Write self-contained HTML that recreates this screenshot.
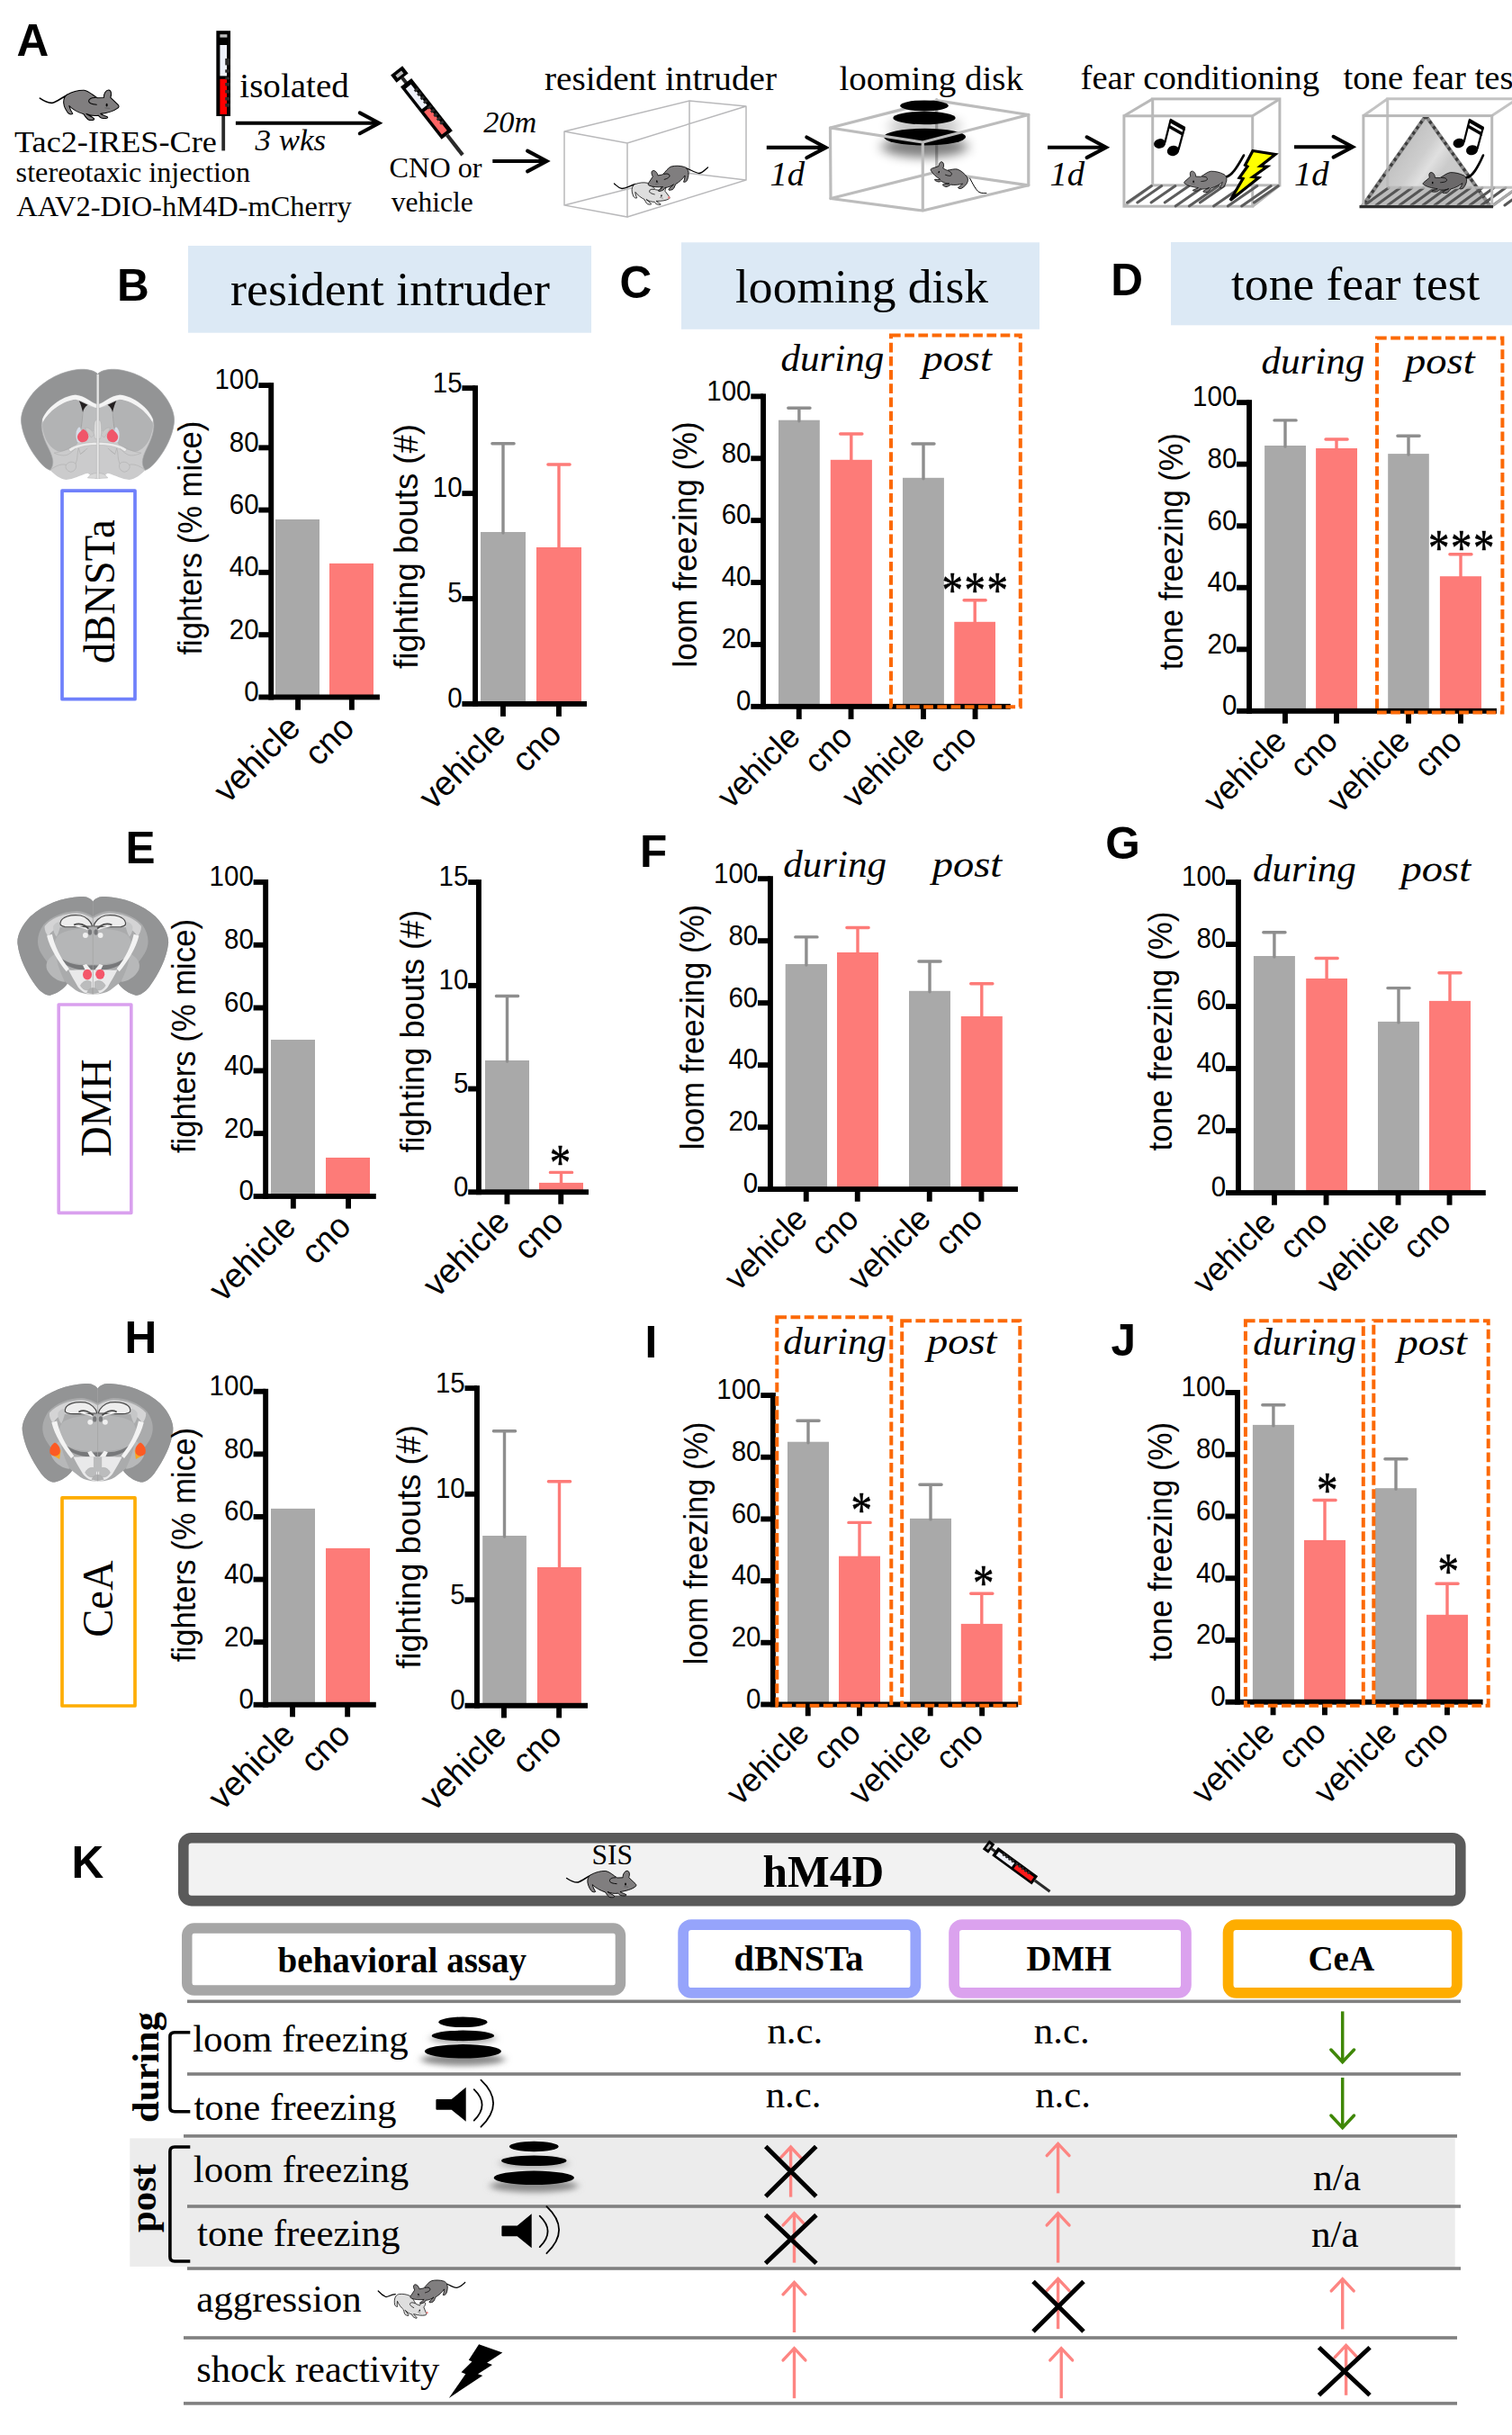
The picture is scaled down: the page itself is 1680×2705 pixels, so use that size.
<!DOCTYPE html>
<html><head><meta charset="utf-8"><title>Figure</title>
<style>html,body{margin:0;padding:0;background:#fff}svg{display:block}.ss{font-family:"Liberation Sans",sans-serif}.sf{font-family:"Liberation Serif",serif}</style></head><body>
<svg width="1680" height="2705" viewBox="0 0 1680 2705">
<rect width="1680" height="2705" fill="#fff"/>
<defs><g id="mb"><path d="M560 255C640 210 720 190 800 192C860 200 920 260 985 300L1075 297C1072 240 1108 188 1145 190C1182 192 1186 250 1170 295L1275 395C1296 415 1286 436 1265 446C1220 480 1130 510 1030 522C1060 545 1110 555 1130 570C1136 590 1080 590 1040 580C1020 570 1005 556 1000 545C940 556 880 545 830 522C860 545 910 560 940 590C950 615 900 612 870 610C840 600 815 560 795 528C720 505 640 460 590 410C600 450 625 500 640 520C620 535 590 525 570 505C530 450 505 380 515 330C520 295 540 270 560 255Z" stroke="#000" stroke-width="13" stroke-linejoin="round"/>
<path d="M958 298C900 294 865 315 865 345C865 380 920 392 975 395" fill="none" stroke="#000" stroke-width="13" stroke-linecap="round"/>
<ellipse cx="1117" cy="400" rx="13" ry="23" fill="#000"/><path d="M1090 440L1160 446" stroke="#555" stroke-width="9" fill="none"/></g><filter id="bl" x="-30%" y="-100%" width="160%" height="400%"><feGaussianBlur stdDeviation="7 6"/></filter><filter id="bl2" x="-30%" y="-100%" width="160%" height="400%"><feGaussianBlur stdDeviation="4 3"/></filter><filter id="soft"><feGaussianBlur stdDeviation="0.5"/></filter><linearGradient id="tri" gradientUnits="userSpaceOnUse" x1="1513.5" y1="229.5" x2="1603.6" y2="292.6"><stop offset="0" stop-color="#c2c2c2"/><stop offset="0.2" stop-color="#cecece"/><stop offset="0.32" stop-color="#e0e0e0"/><stop offset="0.46" stop-color="#cbcbcb"/><stop offset="1" stop-color="#c2c2c2"/></linearGradient></defs>
<rect x="209.0" y="273.0" width="448.0" height="96.7" fill="#dce9f5"/>
<rect x="757.0" y="269.3" width="398.0" height="96.5" fill="#dce9f5"/>
<rect x="1301.0" y="269.0" width="379.0" height="92.3" fill="#dce9f5"/>
<text class="sf" font-size="53.6" textLength="355.0" lengthAdjust="spacingAndGlyphs" x="256.0" y="339.0">resident intruder</text>
<text class="sf" font-size="53.6" textLength="281.0" lengthAdjust="spacingAndGlyphs" x="817.0" y="336.0">looming disk</text>
<text class="sf" font-size="53.6" textLength="276.4" lengthAdjust="spacingAndGlyphs" x="1368.0" y="333.0">tone fear test</text>
<text class="ss" font-size="49.5" font-weight="bold" x="18.5" y="62.0">A</text>
<text class="ss" font-size="49.5" font-weight="bold" x="129.9" y="333.9">B</text>
<text class="ss" font-size="49.5" font-weight="bold" x="688.5" y="330.9">C</text>
<text class="ss" font-size="49.5" font-weight="bold" x="1234.3" y="327.9">D</text>
<text class="ss" font-size="49.5" font-weight="bold" x="139.5" y="958.8">E</text>
<text class="ss" font-size="49.5" font-weight="bold" x="711.1" y="962.8">F</text>
<text class="ss" font-size="49.5" font-weight="bold" x="1228.2" y="953.8">G</text>
<text class="ss" font-size="49.5" font-weight="bold" x="138.5" y="1502.8">H</text>
<text class="ss" font-size="49.5" font-weight="bold" x="716.5" y="1507.9">I</text>
<text class="ss" font-size="49.5" font-weight="bold" x="1234.4" y="1505.8">J</text>
<text class="ss" font-size="49.5" font-weight="bold" x="79.5" y="2085.9">K</text>
<text class="sf" font-size="38.8" textLength="121.5" lengthAdjust="spacingAndGlyphs" x="266.3" y="107.9">isolated</text>
<text class="sf" font-size="34" textLength="224.8" lengthAdjust="spacingAndGlyphs" x="16.0" y="168.5">Tac2-IRES-Cre</text>
<text class="sf" font-size="32.4" textLength="260.5" lengthAdjust="spacingAndGlyphs" x="17.6" y="201.7">stereotaxic injection</text>
<text class="sf" font-size="32.3" textLength="372.5" lengthAdjust="spacingAndGlyphs" x="18.3" y="239.5">AAV2-DIO-hM4D-mCherry</text>
<text class="sf" font-size="31.8" textLength="103.0" lengthAdjust="spacingAndGlyphs" x="432.6" y="196.8">CNO or</text>
<text class="sf" font-size="32" textLength="91.0" lengthAdjust="spacingAndGlyphs" x="434.8" y="234.6">vehicle</text>
<text class="sf" font-size="38.7" textLength="258.0" lengthAdjust="spacingAndGlyphs" x="605.0" y="100.0">resident intruder</text>
<text class="sf" font-size="38.7" textLength="204.5" lengthAdjust="spacingAndGlyphs" x="932.5" y="99.7">looming disk</text>
<text class="sf" font-size="38.7" textLength="265.5" lengthAdjust="spacingAndGlyphs" x="1200.5" y="99.0">fear conditioning</text>
<text class="sf" font-size="38.7" x="1492.5" y="99.0">tone fear test</text>
<text class="sf" font-size="34.4" font-style="italic" textLength="78.5" lengthAdjust="spacingAndGlyphs" x="283.6" y="167.0">3 wks</text>
<text class="sf" font-size="34" font-style="italic" textLength="59.0" lengthAdjust="spacingAndGlyphs" x="537.2" y="146.9">20m</text>
<text class="sf" font-size="38.7" font-style="italic" x="855.4" y="206.0">1d</text>
<text class="sf" font-size="38.7" font-style="italic" x="1166.4" y="206.0">1d</text>
<text class="sf" font-size="38.7" font-style="italic" x="1438.0" y="206.0">1d</text>
<path d="M261.9 136.8H420.1" stroke="#000" stroke-width="4.1" fill="none"/><path d="M399.8 125.4L421.1 136.8L399.8 148.2" stroke="#000" stroke-width="4.1" fill="none" stroke-linejoin="miter" stroke-linecap="round"/>
<path d="M547.3 179H606.4" stroke="#000" stroke-width="4.1" fill="none"/><path d="M586.1 167.6L607.4 179L586.1 190.4" stroke="#000" stroke-width="4.1" fill="none" stroke-linejoin="miter" stroke-linecap="round"/>
<path d="M851.8 163.9H916.6" stroke="#000" stroke-width="4.1" fill="none"/><path d="M896.3 152.5L917.6 163.9L896.3 175.3" stroke="#000" stroke-width="4.1" fill="none" stroke-linejoin="miter" stroke-linecap="round"/>
<path d="M1164 163.7H1227.8999999999999" stroke="#000" stroke-width="4.1" fill="none"/><path d="M1207.6 152.3L1228.9 163.7L1207.6 175.1" stroke="#000" stroke-width="4.1" fill="none" stroke-linejoin="miter" stroke-linecap="round"/>
<path d="M1438 163.2H1501.8999999999999" stroke="#000" stroke-width="4.1" fill="none"/><path d="M1481.6 151.8L1502.9 163.2L1481.6 174.6" stroke="#000" stroke-width="4.1" fill="none" stroke-linejoin="miter" stroke-linecap="round"/>
<path d="M74.8 105.5C68 109 63 113 58.5 114.3C53 115 48.5 112 44.3 109.2" fill="none" stroke="#000" stroke-width="1.6" stroke-linecap="round"/><use href="#mb" transform="translate(101.2,116.7) rotate(0) scale(0.07937,0.07937) translate(-897.5,-400)" fill="#807e7f"/><g transform="translate(248.2,34.2) rotate(0) scale(1.0)"><rect x="-7.85" y="0" width="15.7" height="94.8" fill="#000"/><rect x="-3.8" y="4" width="8" height="3.4" fill="#bdbdbd"/><rect x="-3.8" y="15.8" width="7.7" height="34.4" fill="#eef1fa"/><rect x="-3.8" y="53.6" width="7.7" height="39.2" fill="#ff0000"/><rect x="2.05" y="30.8" width="5.2" height="7.4" fill="#2a2a2a"/><rect x="2.05" y="43.1" width="5.2" height="3.4" fill="#2a2a2a"/><rect x="2.05" y="51.4" width="5.2" height="2.8" fill="#2a2a2a"/><rect x="2.05" y="57.8" width="5.2" height="3.5" fill="#2a2a2a"/><rect x="2.05" y="65.8" width="5.2" height="3.5" fill="#2a2a2a"/><rect x="2.05" y="73.8" width="5.2" height="3.5" fill="#2a2a2a"/><rect x="2.05" y="80.8" width="5.2" height="3.6" fill="#2a2a2a"/><rect x="-1.9" y="94.8" width="3.8" height="38.4" fill="#2a2a2a"/></g><g transform="translate(451.1,91.8) rotate(-38.07806539100221) scale(1.0)"><rect x="-8.3" y="-17" width="16.6" height="10.5" fill="#000"/><rect x="-4.2" y="-13.6" width="8.4" height="3.8" fill="#bdbdbd"/><rect x="-2" y="-7" width="4" height="8" fill="#2a2a2a"/><rect x="-7.8" y="0" width="15.6" height="74" fill="#000"/><rect x="-4.3" y="5" width="7.4" height="29" fill="#eef1fa"/><rect x="-4.3" y="38" width="7.4" height="32" fill="#ff6464"/><rect x="1.6" y="12" width="4.5" height="3" fill="#2a2a2a"/><rect x="1.6" y="17.5" width="4.5" height="3" fill="#2a2a2a"/><rect x="1.6" y="23" width="4.5" height="3" fill="#2a2a2a"/><rect x="1.6" y="28.5" width="4.5" height="3" fill="#2a2a2a"/><rect x="1.6" y="36" width="4.5" height="3" fill="#2a2a2a"/><rect x="1.6" y="41.5" width="4.5" height="3" fill="#2a2a2a"/><rect x="1.6" y="47" width="4.5" height="3" fill="#2a2a2a"/><rect x="1.6" y="52.5" width="4.5" height="3" fill="#2a2a2a"/><rect x="1.6" y="58" width="4.5" height="3" fill="#2a2a2a"/><rect x="-2.1" y="74" width="4.2" height="28" fill="#2a2a2a"/></g><g stroke="#b9b9bb" stroke-width="1.5" fill="none" stroke-linecap="round"><path d="M627 146L766 112L829 118L697 159ZM627 146V228L697 241V159M697 241L829 200V118M766 112V192M627 228L766 192.5L829 200"/></g><path d="M706 204.5C700 206 696 209.5 691 209.5C687 209 685 206 682.5 204" fill="none" stroke="#000" stroke-width="1.3" stroke-linecap="round"/><use href="#mb" transform="translate(722.9,215.5) rotate(9) scale(0.05556,0.05556) translate(-897.5,-400)" fill="#dedede"/><circle cx="743.2" cy="219.4" r="1.2" fill="#f08080"/><path d="M762 186.5C768 189 773 192 777 192.5C781 192 784 188 786.5 186" fill="none" stroke="#000" stroke-width="1.3" stroke-linecap="round"/><use href="#mb" transform="translate(742.8,198.6) rotate(-13) scale(-0.06032,0.06032) translate(-897.5,-400)" fill="#807e7f"/><g stroke="#bcbcbc" stroke-width="3.2" fill="none" stroke-linecap="round" stroke-linejoin="round"><path d="M922.5 142L1040.7 111.7L1142.8 127.5M1040.7 110.5V191M923 220.5L1040.7 191L1142.8 205.8"/></g><ellipse cx="1027.5" cy="163" rx="48" ry="12" fill="#000" opacity="0.5" filter="url(#bl)"/><ellipse cx="1027.5" cy="140" rx="40" ry="12" fill="#000" opacity="0.22" filter="url(#bl)"/><ellipse cx="1027" cy="117.4" rx="26.8" ry="6" fill="#000"/><ellipse cx="1027" cy="131" rx="34.7" ry="7.2" fill="#000"/><ellipse cx="1027.5" cy="152.1" rx="45.6" ry="9.4" fill="#000"/><g stroke="#bcbcbc" stroke-width="3.2" fill="none" stroke-linecap="round" stroke-linejoin="round"><path d="M922.5 142L1025.3 158L1142.8 127.5M922.5 142L923 220.5L1025.3 234V158M1025.3 234L1142.8 205.8V127.5"/></g><path d="M1077.5 198C1081 204 1084 211 1088 213.5C1091 215 1094 214.5 1095.8 214.5" fill="none" stroke="#000" stroke-width="1.0" stroke-linecap="round"/><use href="#mb" transform="translate(1054.3,196.3) rotate(25) scale(-0.05556,0.05556) translate(-897.5,-400)" fill="#807e7f"/><g stroke="#b9b9b9" stroke-width="3" fill="none" stroke-linejoin="miter"><rect x="1280.7" y="109.9" width="141.2" height="95.9"/><rect x="1248.9" y="128.8" width="142.8" height="100.4"/><path d="M1248.9 128.8L1280.7 109.9M1391.7 128.8L1421.9 109.9M1391.7 229.2L1421.9 205.8M1248.9 229.2L1280.7 205.8"/></g><g stroke="#5c5c5c" stroke-width="3" stroke-linecap="round"><path d="M1252.6 225.0L1279.4 206.5"/><path d="M1263.8 225.0L1290.7 206.5"/><path d="M1279.0 225.0L1305.9 206.5"/><path d="M1294.2 225.0L1321.1 206.5"/><path d="M1306.1 229.0L1338.7 206.5"/><path d="M1321.3 229.0L1354.0 206.5"/><path d="M1333.3 225.0L1360.1 206.5"/><path d="M1348.5 229.0L1381.1 206.5"/><path d="M1364.3 229.0L1396.9 206.5"/><path d="M1379.6 229.0L1412.2 206.5"/><path d="M1393.4 225.0L1420.3 206.5"/></g><g transform="translate(1282.0,131.5) scale(1.0)" filter="url(#soft)"><ellipse cx="6.6" cy="28" rx="6.6" ry="5.3" fill="#000" transform="rotate(-15 6.6 28)"/><ellipse cx="21.5" cy="36" rx="6.8" ry="5.6" fill="#000" transform="rotate(-15 21.5 36)"/><path d="M12.3 27L18.8 1.2M27.4 35L34 10.5" stroke="#000" stroke-width="2.3" fill="none"/><path d="M18.4 0L35.2 9.6L34.2 14L17.4 4.4Z" fill="#000"/><path d="M17 7L33.4 16.2L32.6 19.8L16.2 10.4Z" fill="#000"/></g><path d="M1361 196.5C1368 197 1375 185 1382 172.5" fill="none" stroke="#000" stroke-width="2.6" stroke-linecap="round"/><use href="#mb" transform="translate(1339.5,201.8) rotate(0) scale(-0.06111,0.05556) translate(-897.5,-400)" fill="#807e7f"/><path transform="translate(1367.0,167.5) scale(1.0)" d="M25 0L50 4L33.5 17L41 17.5L25 29L31.5 30L0 55L14 31L10 30L19 17.5L16.5 16Z" fill="#ffff00" stroke="#000" stroke-width="3.2" stroke-linejoin="miter"/><path d="M1584.2 128.6L1513.5 229.5H1656Z" fill="url(#tri)"/><path d="M1513.5 229.5L1541.7 208.3H1641L1656 229.5Z" fill="#b9b9b9" opacity="0.9"/><path d="M1584.2 128.6L1513.5 229.5M1584.2 128.6L1656 229.5" stroke="#8a8a8a" stroke-width="4.2" fill="none"/><path d="M1584.2 128.6L1513.5 229.5M1584.2 128.6L1656 229.5" stroke="#3c3c3c" stroke-width="3.2" stroke-dasharray="3.6 3.6" fill="none"/><g stroke="#555" stroke-width="3.0" stroke-linecap="round"><path d="M1516.0 228.0L1543.0 208.5"/><path d="M1529.0 228.0L1556.0 208.5"/><path d="M1542.0 228.0L1569.0 208.5"/><path d="M1555.0 228.0L1582.0 208.5"/><path d="M1568.0 228.0L1595.0 208.5"/><path d="M1581.0 228.0L1608.0 208.5"/><path d="M1594.0 228.0L1621.0 208.5"/><path d="M1607.0 228.0L1634.0 208.5"/><path d="M1620.0 228.0L1647.0 208.5"/><path d="M1633.0 228.0L1660.0 208.5"/><path d="M1646.0 228.0L1673.0 208.5"/><path d="M1659.0 228.0L1686.0 208.5"/><path d="M1672.0 228.0L1699.0 208.5"/></g><g stroke="#b9b9b9" stroke-width="3" fill="none"><path d="M1541.7 208.3V109.8H1690M1514.9 128.6L1541.7 109.8M1657.7 128.6L1686 109.8M1657.7 229.2L1686 208.3M1541.7 208.3H1690" opacity="0.85"/><rect x="1514.9" y="128.6" width="142.8" height="100.6"/></g><path d="M1510.5 229.6H1659" stroke="#2e2e2e" stroke-width="3.4"/><g transform="translate(1614.5,131.5) scale(0.98)" filter="url(#soft)"><ellipse cx="6.6" cy="28" rx="6.6" ry="5.3" fill="#000" transform="rotate(-15 6.6 28)"/><ellipse cx="21.5" cy="36" rx="6.8" ry="5.6" fill="#000" transform="rotate(-15 21.5 36)"/><path d="M12.3 27L18.8 1.2M27.4 35L34 10.5" stroke="#000" stroke-width="2.3" fill="none"/><path d="M18.4 0L35.2 9.6L34.2 14L17.4 4.4Z" fill="#000"/><path d="M17 7L33.4 16.2L32.6 19.8L16.2 10.4Z" fill="#000"/></g><path d="M1628.5 197.5C1636 197 1642 186 1648 172.5" fill="none" stroke="#000" stroke-width="2.6" stroke-linecap="round"/><use href="#mb" transform="translate(1605.5,203.0) rotate(0) scale(-0.06270,0.05476) translate(-897.5,-400)" fill="#6b696a"/>
<rect x="69" y="545.2" width="81" height="231.5" fill="none" stroke="#6f80fb" stroke-width="3.7" stroke-linejoin="round"/>
<rect x="65.2" y="1116" width="80.6" height="231.4" fill="none" stroke="#d9a0ee" stroke-width="3.6" stroke-linejoin="round"/>
<rect x="69" y="1663.9" width="81" height="231.1" fill="none" stroke="#fead02" stroke-width="3.7" stroke-linejoin="round"/>
<text class="sf" font-size="48" textLength="160.0" lengthAdjust="spacingAndGlyphs" transform="translate(126.9,737.3) rotate(-90)">dBNSTa</text>
<text class="sf" font-size="48" textLength="108.5" lengthAdjust="spacingAndGlyphs" transform="translate(123.1,1285.0) rotate(-90)">DMH</text>
<text class="sf" font-size="48" textLength="85.5" lengthAdjust="spacingAndGlyphs" transform="translate(124.7,1818.8) rotate(-90)">CeA</text>
<g transform="translate(10,400) scale(0.13228)"><g><path d="M745 118C715 80 620 68 540 85C400 110 250 200 170 320C110 410 95 480 105 540C120 640 170 740 230 820C270 875 310 912 345 925C380 960 430 1002 480 1005C540 1000 600 965 660 950C690 965 700 995 745 995Z" fill="#cbcbcc"/>
<path d="M745 118C715 80 620 68 540 85C400 110 250 200 170 320C110 410 95 480 105 540C120 640 170 740 230 820C270 875 310 912 345 925C392 868 362 800 322 720C282 640 262 560 280 500C310 410 440 300 560 292C640 298 690 362 745 372Z" fill="#939495" stroke="#a9aaab" stroke-width="5"/>
<path d="M285 522C330 430 450 340 560 330L608 350C622 430 622 520 604 600C600 650 590 690 560 720C520 745 470 765 430 770C370 760 320 700 300 640C280 580 276 552 285 522Z" fill="#b2b3b4"/>
<path d="M608 350C660 390 700 398 745 402V600L604 600C622 520 622 430 608 350Z" fill="#bcbdbe"/>
<path d="M745 372C690 362 640 298 560 292C440 300 310 410 280 500L285 522C330 430 450 340 560 330C630 338 690 396 745 402Z" fill="#f4f4f4"/>
<path d="M588 343L662 376C640 390 626 410 620 440C612 405 602 370 588 343Z" fill="#231f20"/>
<path d="M620 440C614 520 610 560 596 610" fill="none" stroke="#9a9a9a" stroke-width="5"/>
<path d="M500 748C560 705 660 690 745 690L745 715C660 712 580 725 515 770Z" fill="#ececec" stroke="#a5a5a5" stroke-width="3"/>
<path d="M566 600C580 560 598 548 604 590L612 690L575 690C562 660 560 630 566 600Z" fill="#d6dde8"/>
<path d="M640 570C670 560 700 590 716 630L690 650C670 620 650 600 640 570Z" fill="#c9c9c9" stroke="#a8a8a8" stroke-width="3"/>
<path d="M720 520C728 500 745 495 745 495V660L722 660C712 610 712 560 720 520Z" fill="#dedede" stroke="#a8a8a8" stroke-width="3"/>
<path d="M621 580C650 590 668 615 668 645C664 675 640 692 616 690C590 688 572 665 574 640C578 615 600 600 621 580Z" fill="#f0566a"/>
<path d="M520 730C470 760 420 775 380 780M380 780C420 800 470 810 500 790C520 780 540 760 560 740M345 925C400 880 450 870 480 880C500 850 540 850 560 870C580 830 570 780 585 740M480 880C470 900 480 930 520 940C560 930 570 900 560 870M600 790C620 770 640 760 660 740M585 740L600 790L640 760" fill="none" stroke="#a9a9a9" stroke-width="4"/>
<path d="M660 990C680 960 700 950 745 950V995Z" fill="#d8d8d8" stroke="#a9a9a9" stroke-width="3"/></g><g transform="translate(1490,0) scale(-1,1)"><path d="M745 118C715 80 620 68 540 85C400 110 250 200 170 320C110 410 95 480 105 540C120 640 170 740 230 820C270 875 310 912 345 925C380 960 430 1002 480 1005C540 1000 600 965 660 950C690 965 700 995 745 995Z" fill="#cbcbcc"/>
<path d="M745 118C715 80 620 68 540 85C400 110 250 200 170 320C110 410 95 480 105 540C120 640 170 740 230 820C270 875 310 912 345 925C392 868 362 800 322 720C282 640 262 560 280 500C310 410 440 300 560 292C640 298 690 362 745 372Z" fill="#939495" stroke="#a9aaab" stroke-width="5"/>
<path d="M285 522C330 430 450 340 560 330L608 350C622 430 622 520 604 600C600 650 590 690 560 720C520 745 470 765 430 770C370 760 320 700 300 640C280 580 276 552 285 522Z" fill="#b2b3b4"/>
<path d="M608 350C660 390 700 398 745 402V600L604 600C622 520 622 430 608 350Z" fill="#bcbdbe"/>
<path d="M745 372C690 362 640 298 560 292C440 300 310 410 280 500L285 522C330 430 450 340 560 330C630 338 690 396 745 402Z" fill="#f4f4f4"/>
<path d="M588 343L662 376C640 390 626 410 620 440C612 405 602 370 588 343Z" fill="#231f20"/>
<path d="M620 440C614 520 610 560 596 610" fill="none" stroke="#9a9a9a" stroke-width="5"/>
<path d="M500 748C560 705 660 690 745 690L745 715C660 712 580 725 515 770Z" fill="#ececec" stroke="#a5a5a5" stroke-width="3"/>
<path d="M566 600C580 560 598 548 604 590L612 690L575 690C562 660 560 630 566 600Z" fill="#d6dde8"/>
<path d="M640 570C670 560 700 590 716 630L690 650C670 620 650 600 640 570Z" fill="#c9c9c9" stroke="#a8a8a8" stroke-width="3"/>
<path d="M720 520C728 500 745 495 745 495V660L722 660C712 610 712 560 720 520Z" fill="#dedede" stroke="#a8a8a8" stroke-width="3"/>
<path d="M621 580C650 590 668 615 668 645C664 675 640 692 616 690C590 688 572 665 574 640C578 615 600 600 621 580Z" fill="#f0566a"/>
<path d="M520 730C470 760 420 775 380 780M380 780C420 800 470 810 500 790C520 780 540 760 560 740M345 925C400 880 450 870 480 880C500 850 540 850 560 870C580 830 570 780 585 740M480 880C470 900 480 930 520 940C560 930 570 900 560 870M600 790C620 770 640 760 660 740M585 740L600 790L640 760" fill="none" stroke="#a9a9a9" stroke-width="4"/>
<path d="M660 990C680 960 700 950 745 950V995Z" fill="#d8d8d8" stroke="#a9a9a9" stroke-width="3"/></g><rect x="736" y="120" width="20" height="875" fill="#e6e6e6"/><path d="M736 120V995M756 120V995" stroke="#a0a0a0" stroke-width="3"/></g><g transform="translate(10,985) scale(0.13228)"><g><path d="M705 125C680 90 640 82 600 84C450 90 290 150 180 250C100 330 65 420 72 480C85 600 150 730 230 840C270 890 310 915 345 912C400 900 460 860 490 815L560 870C600 895 660 908 705 903Z" fill="#aaabac"/>
<path d="M705 125C680 90 640 82 600 84C450 90 290 150 180 250C100 330 65 420 72 480C85 600 150 730 230 840C270 890 310 915 345 912C400 900 460 860 490 815C430 760 330 660 270 560C225 480 235 400 290 320C350 250 470 205 570 205C630 210 680 235 705 252Z" fill="#939495"/>
<path d="M300 330C360 260 470 222 570 222C630 226 680 250 705 268V340L420 340C380 360 350 380 330 420C310 390 295 360 300 330Z" fill="#d4d4d5"/>
<path d="M395 560C330 600 300 640 320 700C350 760 420 800 470 800C440 740 400 650 395 560Z" fill="#b7b8b9"/>
<path d="M705 352C600 350 480 360 420 402C372 440 372 520 402 572C450 632 580 656 705 652Z" fill="#b5b6b7"/>
<path d="M436 600C520 665 610 665 705 660L705 700C610 705 510 690 450 635Z" fill="#77787a"/>
<path d="M500 700C540 702 600 696 705 700L705 903C660 908 610 882 580 842C550 792 520 742 500 700Z" fill="#e9e9ea"/>
<path d="M318 412L362 398C384 500 434 600 506 690L482 712C410 622 346 522 318 412Z" fill="#f3f3f3"/>
<path d="M372 330C390 300 420 290 436 300C430 340 420 380 400 420C380 400 368 360 372 330Z" fill="#c6c7c8"/>
<path d="M432 300C442 252 520 232 600 242C650 252 690 292 700 332C650 334 560 342 470 337C440 332 426 322 432 300Z" fill="#ededed" stroke="#4a4a4a" stroke-width="9"/>
<path d="M545 322C590 300 640 320 668 352" fill="none" stroke="#4a4a4a" stroke-width="13"/>
<path d="M560 330C600 340 640 345 660 360" fill="none" stroke="#f4f4f4" stroke-width="9"/>
<ellipse cx="680" cy="382" rx="16" ry="24" fill="#77787a"/><circle cx="642" cy="408" r="22" fill="#f0f0f0"/>
<path d="M600 830C620 790 660 780 690 800L690 860C660 880 620 870 600 830Z" fill="#bbbcbd" stroke="#a0a0a0" stroke-width="3"/>
<path d="M655 890C665 860 690 850 705 850V900Z" fill="#b1b2b3" stroke="#a0a0a0" stroke-width="3"/>
<path d="M620 660L650 650L690 700L640 700Z" fill="#f2f2f2"/></g><g transform="translate(1410,0) scale(-1,1)"><path d="M705 125C680 90 640 82 600 84C450 90 290 150 180 250C100 330 65 420 72 480C85 600 150 730 230 840C270 890 310 915 345 912C400 900 460 860 490 815L560 870C600 895 660 908 705 903Z" fill="#aaabac"/>
<path d="M705 125C680 90 640 82 600 84C450 90 290 150 180 250C100 330 65 420 72 480C85 600 150 730 230 840C270 890 310 915 345 912C400 900 460 860 490 815C430 760 330 660 270 560C225 480 235 400 290 320C350 250 470 205 570 205C630 210 680 235 705 252Z" fill="#939495"/>
<path d="M300 330C360 260 470 222 570 222C630 226 680 250 705 268V340L420 340C380 360 350 380 330 420C310 390 295 360 300 330Z" fill="#d4d4d5"/>
<path d="M395 560C330 600 300 640 320 700C350 760 420 800 470 800C440 740 400 650 395 560Z" fill="#b7b8b9"/>
<path d="M705 352C600 350 480 360 420 402C372 440 372 520 402 572C450 632 580 656 705 652Z" fill="#b5b6b7"/>
<path d="M436 600C520 665 610 665 705 660L705 700C610 705 510 690 450 635Z" fill="#77787a"/>
<path d="M500 700C540 702 600 696 705 700L705 903C660 908 610 882 580 842C550 792 520 742 500 700Z" fill="#e9e9ea"/>
<path d="M318 412L362 398C384 500 434 600 506 690L482 712C410 622 346 522 318 412Z" fill="#f3f3f3"/>
<path d="M372 330C390 300 420 290 436 300C430 340 420 380 400 420C380 400 368 360 372 330Z" fill="#c6c7c8"/>
<path d="M432 300C442 252 520 232 600 242C650 252 690 292 700 332C650 334 560 342 470 337C440 332 426 322 432 300Z" fill="#ededed" stroke="#4a4a4a" stroke-width="9"/>
<path d="M545 322C590 300 640 320 668 352" fill="none" stroke="#4a4a4a" stroke-width="13"/>
<path d="M560 330C600 340 640 345 660 360" fill="none" stroke="#f4f4f4" stroke-width="9"/>
<ellipse cx="680" cy="382" rx="16" ry="24" fill="#77787a"/><circle cx="642" cy="408" r="22" fill="#f0f0f0"/>
<path d="M600 830C620 790 660 780 690 800L690 860C660 880 620 870 600 830Z" fill="#bbbcbd" stroke="#a0a0a0" stroke-width="3"/>
<path d="M655 890C665 860 690 850 705 850V900Z" fill="#b1b2b3" stroke="#a0a0a0" stroke-width="3"/>
<path d="M620 660L650 650L690 700L640 700Z" fill="#f2f2f2"/></g><path d="M705 125V903" stroke="#9a9a9a" stroke-width="4"/><ellipse cx="658" cy="738" rx="38" ry="44" fill="#f4566a"/><ellipse cx="765" cy="735" rx="38" ry="42" fill="#f4566a"/></g><g transform="translate(15.291005291005291,1525.873015873016) scale(0.13228)"><g><path d="M705 125C680 90 640 82 600 84C450 90 290 150 180 250C100 330 65 420 72 480C85 600 150 730 230 840C270 890 310 915 345 912C400 900 460 860 490 815L560 870C600 895 660 908 705 903Z" fill="#aaabac"/>
<path d="M705 125C680 90 640 82 600 84C450 90 290 150 180 250C100 330 65 420 72 480C85 600 150 730 230 840C270 890 310 915 345 912C400 900 460 860 490 815C430 760 330 660 270 560C225 480 235 400 290 320C350 250 470 205 570 205C630 210 680 235 705 252Z" fill="#939495"/>
<path d="M300 330C360 260 470 222 570 222C630 226 680 250 705 268V340L420 340C380 360 350 380 330 420C310 390 295 360 300 330Z" fill="#d4d4d5"/>
<path d="M395 560C330 600 300 640 320 700C350 760 420 800 470 800C440 740 400 650 395 560Z" fill="#b7b8b9"/>
<path d="M705 352C600 350 480 360 420 402C372 440 372 520 402 572C450 632 580 656 705 652Z" fill="#b5b6b7"/>
<path d="M436 600C520 665 610 665 705 660L705 700C610 705 510 690 450 635Z" fill="#77787a"/>
<path d="M500 700C540 702 600 696 705 700L705 903C660 908 610 882 580 842C550 792 520 742 500 700Z" fill="#e9e9ea"/>
<path d="M318 412L362 398C384 500 434 600 506 690L482 712C410 622 346 522 318 412Z" fill="#f3f3f3"/>
<path d="M372 330C390 300 420 290 436 300C430 340 420 380 400 420C380 400 368 360 372 330Z" fill="#c6c7c8"/>
<path d="M432 300C442 252 520 232 600 242C650 252 690 292 700 332C650 334 560 342 470 337C440 332 426 322 432 300Z" fill="#ededed" stroke="#4a4a4a" stroke-width="9"/>
<path d="M545 322C590 300 640 320 668 352" fill="none" stroke="#4a4a4a" stroke-width="13"/>
<path d="M560 330C600 340 640 345 660 360" fill="none" stroke="#f4f4f4" stroke-width="9"/>
<ellipse cx="680" cy="382" rx="16" ry="24" fill="#77787a"/><circle cx="642" cy="408" r="22" fill="#f0f0f0"/>
<path d="M600 830C620 790 660 780 690 800L690 860C660 880 620 870 600 830Z" fill="#bbbcbd" stroke="#a0a0a0" stroke-width="3"/>
<path d="M655 890C665 860 690 850 705 850V900Z" fill="#b1b2b3" stroke="#a0a0a0" stroke-width="3"/>
<path d="M620 660L650 650L690 700L640 700Z" fill="#f2f2f2"/></g><g transform="translate(1410,0) scale(-1,1)"><path d="M705 125C680 90 640 82 600 84C450 90 290 150 180 250C100 330 65 420 72 480C85 600 150 730 230 840C270 890 310 915 345 912C400 900 460 860 490 815L560 870C600 895 660 908 705 903Z" fill="#aaabac"/>
<path d="M705 125C680 90 640 82 600 84C450 90 290 150 180 250C100 330 65 420 72 480C85 600 150 730 230 840C270 890 310 915 345 912C400 900 460 860 490 815C430 760 330 660 270 560C225 480 235 400 290 320C350 250 470 205 570 205C630 210 680 235 705 252Z" fill="#939495"/>
<path d="M300 330C360 260 470 222 570 222C630 226 680 250 705 268V340L420 340C380 360 350 380 330 420C310 390 295 360 300 330Z" fill="#d4d4d5"/>
<path d="M395 560C330 600 300 640 320 700C350 760 420 800 470 800C440 740 400 650 395 560Z" fill="#b7b8b9"/>
<path d="M705 352C600 350 480 360 420 402C372 440 372 520 402 572C450 632 580 656 705 652Z" fill="#b5b6b7"/>
<path d="M436 600C520 665 610 665 705 660L705 700C610 705 510 690 450 635Z" fill="#77787a"/>
<path d="M500 700C540 702 600 696 705 700L705 903C660 908 610 882 580 842C550 792 520 742 500 700Z" fill="#e9e9ea"/>
<path d="M318 412L362 398C384 500 434 600 506 690L482 712C410 622 346 522 318 412Z" fill="#f3f3f3"/>
<path d="M372 330C390 300 420 290 436 300C430 340 420 380 400 420C380 400 368 360 372 330Z" fill="#c6c7c8"/>
<path d="M432 300C442 252 520 232 600 242C650 252 690 292 700 332C650 334 560 342 470 337C440 332 426 322 432 300Z" fill="#ededed" stroke="#4a4a4a" stroke-width="9"/>
<path d="M545 322C590 300 640 320 668 352" fill="none" stroke="#4a4a4a" stroke-width="13"/>
<path d="M560 330C600 340 640 345 660 360" fill="none" stroke="#f4f4f4" stroke-width="9"/>
<ellipse cx="680" cy="382" rx="16" ry="24" fill="#77787a"/><circle cx="642" cy="408" r="22" fill="#f0f0f0"/>
<path d="M600 830C620 790 660 780 690 800L690 860C660 880 620 870 600 830Z" fill="#bbbcbd" stroke="#a0a0a0" stroke-width="3"/>
<path d="M655 890C665 860 690 850 705 850V900Z" fill="#b1b2b3" stroke="#a0a0a0" stroke-width="3"/>
<path d="M620 660L650 650L690 700L640 700Z" fill="#f2f2f2"/></g><path d="M705 125V903" stroke="#9a9a9a" stroke-width="4"/><path d="M670 700H740V800L705 830L670 800Z" fill="#bbbcbd"/><path d="M335 690L395 640L385 720Z" fill="#f7a823"/><path d="M345 580C385 600 397 640 385 670C365 700 325 700 305 670C295 630 315 600 345 580Z" fill="#fd5a23"/><path d="M1075 690L1015 640L1025 720Z" fill="#f7a823"/><path d="M1065 580C1025 600 1013 640 1025 670C1045 700 1085 700 1105 670C1115 630 1095 600 1065 580Z" fill="#fd5a23"/></g>
<rect x="306.0" y="577.0" width="49.0" height="197.5" fill="#a9a9a9"/>
<rect x="366.0" y="625.9" width="49.0" height="148.6" fill="#fd7b78"/>
<rect x="298.3" y="425.1" width="5.9" height="352.4" fill="#000"/>
<rect x="287.4" y="771.5" width="134.5" height="5.9" fill="#000"/>
<rect x="287.4" y="425.1" width="13.9" height="5.9" fill="#000"/>
<text class="ss" font-size="32" text-anchor="end" textLength="49.2" lengthAdjust="spacingAndGlyphs" x="287.6" y="432.3">100</text>
<rect x="287.4" y="494.4" width="13.9" height="5.9" fill="#000"/>
<text class="ss" font-size="32" text-anchor="end" textLength="32.8" lengthAdjust="spacingAndGlyphs" x="287.6" y="501.6">80</text>
<rect x="287.4" y="563.6" width="13.9" height="5.9" fill="#000"/>
<text class="ss" font-size="32" text-anchor="end" textLength="32.8" lengthAdjust="spacingAndGlyphs" x="287.6" y="570.9">60</text>
<rect x="287.4" y="632.9" width="13.9" height="5.9" fill="#000"/>
<text class="ss" font-size="32" text-anchor="end" textLength="32.8" lengthAdjust="spacingAndGlyphs" x="287.6" y="640.2">40</text>
<rect x="287.4" y="702.2" width="13.9" height="5.9" fill="#000"/>
<text class="ss" font-size="32" text-anchor="end" textLength="32.8" lengthAdjust="spacingAndGlyphs" x="287.6" y="709.5">20</text>
<text class="ss" font-size="32" text-anchor="end" textLength="16.4" lengthAdjust="spacingAndGlyphs" x="287.6" y="778.8">0</text>
<rect x="328.1" y="774.5" width="5.9" height="14.2" fill="#000"/>
<rect x="387.9" y="774.5" width="5.9" height="14.2" fill="#000"/>
<text class="ss" font-size="38.3" text-anchor="end" textLength="117.0" lengthAdjust="spacingAndGlyphs" transform="translate(335.9,810.8) rotate(-45)">vehicle</text>
<text class="ss" font-size="38.3" text-anchor="end" textLength="59.0" lengthAdjust="spacingAndGlyphs" transform="translate(395.7,810.8) rotate(-45)">cno</text>
<text class="ss" font-size="36.5" textLength="259.7" lengthAdjust="spacingAndGlyphs" transform="translate(223.5,727.5) rotate(-90)">fighters (% mice)</text>
<rect x="534.0" y="591.0" width="50.0" height="191.0" fill="#a9a9a9"/>
<path d="M559.0 592.0V492.8M546.9 492.8H571.1" stroke="#8e8e8e" stroke-width="3.4" stroke-linecap="round" fill="none"/>
<rect x="596.0" y="608.0" width="50.0" height="174.0" fill="#fd7b78"/>
<path d="M621.0 609.0V516.0M608.9 516.0H633.1" stroke="#fd7b78" stroke-width="3.4" stroke-linecap="round" fill="none"/>
<rect x="525.1" y="428.2" width="5.9" height="356.7" fill="#000"/>
<rect x="513.4" y="779.0" width="138.6" height="5.9" fill="#000"/>
<rect x="513.4" y="428.2" width="14.7" height="5.9" fill="#000"/>
<text class="ss" font-size="32" text-anchor="end" textLength="32.8" lengthAdjust="spacingAndGlyphs" x="513.6" y="435.5">15</text>
<rect x="513.4" y="545.2" width="14.7" height="5.9" fill="#000"/>
<text class="ss" font-size="32" text-anchor="end" textLength="32.8" lengthAdjust="spacingAndGlyphs" x="513.6" y="552.4">10</text>
<rect x="513.4" y="662.1" width="14.7" height="5.9" fill="#000"/>
<text class="ss" font-size="32" text-anchor="end" textLength="16.4" lengthAdjust="spacingAndGlyphs" x="513.6" y="669.4">5</text>
<text class="ss" font-size="32" text-anchor="end" textLength="16.4" lengthAdjust="spacingAndGlyphs" x="513.6" y="786.3">0</text>
<rect x="556.0" y="782.0" width="5.9" height="13.9" fill="#000"/>
<rect x="618.0" y="782.0" width="5.9" height="13.9" fill="#000"/>
<text class="ss" font-size="38.3" text-anchor="end" textLength="117.0" lengthAdjust="spacingAndGlyphs" transform="translate(563.9,818.0) rotate(-45)">vehicle</text>
<text class="ss" font-size="38.3" text-anchor="end" textLength="59.0" lengthAdjust="spacingAndGlyphs" transform="translate(625.9,818.0) rotate(-45)">cno</text>
<text class="ss" font-size="36.5" textLength="272.0" lengthAdjust="spacingAndGlyphs" transform="translate(463.5,743.0) rotate(-90)">fighting bouts (#)</text>
<rect x="865.0" y="466.7" width="45.8" height="318.2" fill="#a9a9a9"/>
<path d="M887.9 467.7V453.3M875.8 453.3H900.0" stroke="#8e8e8e" stroke-width="3.4" stroke-linecap="round" fill="none"/>
<rect x="922.8" y="510.8" width="46.1" height="274.1" fill="#fd7b78"/>
<path d="M945.8 511.8V482.0M933.7 482.0H957.9" stroke="#fd7b78" stroke-width="3.4" stroke-linecap="round" fill="none"/>
<rect x="1003.0" y="530.8" width="45.9" height="254.1" fill="#a9a9a9"/>
<path d="M1026.0 531.8V493.0M1013.9 493.0H1038.0" stroke="#8e8e8e" stroke-width="3.4" stroke-linecap="round" fill="none"/>
<rect x="1060.3" y="690.8" width="45.7" height="94.1" fill="#fd7b78"/>
<path d="M1083.2 691.8V666.7M1071.1 666.7H1095.2" stroke="#fd7b78" stroke-width="3.4" stroke-linecap="round" fill="none"/>
<rect x="845.1" y="437.4" width="5.9" height="350.5" fill="#000"/>
<rect x="834.3" y="781.9" width="288.5" height="5.9" fill="#000"/>
<rect x="834.3" y="437.4" width="13.8" height="5.9" fill="#000"/>
<text class="ss" font-size="32" text-anchor="end" textLength="49.2" lengthAdjust="spacingAndGlyphs" x="834.5" y="444.6">100</text>
<rect x="834.3" y="506.3" width="13.8" height="5.9" fill="#000"/>
<text class="ss" font-size="32" text-anchor="end" textLength="32.8" lengthAdjust="spacingAndGlyphs" x="834.5" y="513.5">80</text>
<rect x="834.3" y="575.2" width="13.8" height="5.9" fill="#000"/>
<text class="ss" font-size="32" text-anchor="end" textLength="32.8" lengthAdjust="spacingAndGlyphs" x="834.5" y="582.4">60</text>
<rect x="834.3" y="644.1" width="13.8" height="5.9" fill="#000"/>
<text class="ss" font-size="32" text-anchor="end" textLength="32.8" lengthAdjust="spacingAndGlyphs" x="834.5" y="651.4">40</text>
<rect x="834.3" y="713.0" width="13.8" height="5.9" fill="#000"/>
<text class="ss" font-size="32" text-anchor="end" textLength="32.8" lengthAdjust="spacingAndGlyphs" x="834.5" y="720.3">20</text>
<text class="ss" font-size="32" text-anchor="end" textLength="16.4" lengthAdjust="spacingAndGlyphs" x="834.5" y="789.2">0</text>
<rect x="884.8" y="784.9" width="5.9" height="14.1" fill="#000"/>
<rect x="942.6" y="784.9" width="5.9" height="14.1" fill="#000"/>
<rect x="1023.0" y="784.9" width="5.9" height="14.1" fill="#000"/>
<rect x="1080.6" y="784.9" width="5.9" height="14.1" fill="#000"/>
<text class="ss" font-size="37.0" text-anchor="end" textLength="111.5" lengthAdjust="spacingAndGlyphs" transform="translate(891.2,820.6) rotate(-45)">vehicle</text>
<text class="ss" font-size="37.0" text-anchor="end" textLength="56.8" lengthAdjust="spacingAndGlyphs" transform="translate(949.0,820.6) rotate(-45)">cno</text>
<text class="ss" font-size="37.0" text-anchor="end" textLength="111.5" lengthAdjust="spacingAndGlyphs" transform="translate(1029.4,820.6) rotate(-45)">vehicle</text>
<text class="ss" font-size="37.0" text-anchor="end" textLength="56.8" lengthAdjust="spacingAndGlyphs" transform="translate(1087.0,820.6) rotate(-45)">cno</text>
<text class="ss" font-size="36.5" textLength="273.1" lengthAdjust="spacingAndGlyphs" transform="translate(774.4,741.4) rotate(-90)">loom freezing (%)</text>
<text class="sf" font-size="46" transform="translate(1058.2,648.1) scale(1.02,1.24)" x="-11.39" y="21.85" stroke="#000" stroke-width="0.5">*</text>
<text class="sf" font-size="46" transform="translate(1083.2,648.1) scale(1.02,1.24)" x="-11.39" y="21.85" stroke="#000" stroke-width="0.5">*</text>
<text class="sf" font-size="46" transform="translate(1108.2,648.1) scale(1.02,1.24)" x="-11.39" y="21.85" stroke="#000" stroke-width="0.5">*</text>
<rect x="1405.1" y="495.0" width="45.9" height="294.9" fill="#a9a9a9"/>
<path d="M1428.0 496.0V466.9M1416.0 466.9H1440.1" stroke="#8e8e8e" stroke-width="3.4" stroke-linecap="round" fill="none"/>
<rect x="1462.1" y="498.0" width="45.9" height="291.9" fill="#fd7b78"/>
<path d="M1485.0 499.0V488.0M1473.0 488.0H1497.1" stroke="#fd7b78" stroke-width="3.4" stroke-linecap="round" fill="none"/>
<rect x="1542.2" y="504.1" width="45.6" height="285.8" fill="#a9a9a9"/>
<path d="M1565.0 505.1V484.2M1552.9 484.2H1577.1" stroke="#8e8e8e" stroke-width="3.4" stroke-linecap="round" fill="none"/>
<rect x="1599.9" y="640.2" width="46.1" height="149.7" fill="#fd7b78"/>
<path d="M1623.0 641.2V615.8M1610.9 615.8H1635.0" stroke="#fd7b78" stroke-width="3.4" stroke-linecap="round" fill="none"/>
<rect x="1385.1" y="444.2" width="5.9" height="348.7" fill="#000"/>
<rect x="1374.1" y="786.9" width="288.9" height="5.9" fill="#000"/>
<rect x="1374.1" y="444.2" width="14.0" height="5.9" fill="#000"/>
<text class="ss" font-size="32" text-anchor="end" textLength="49.2" lengthAdjust="spacingAndGlyphs" x="1374.3" y="451.4">100</text>
<rect x="1374.1" y="512.7" width="14.0" height="5.9" fill="#000"/>
<text class="ss" font-size="32" text-anchor="end" textLength="32.8" lengthAdjust="spacingAndGlyphs" x="1374.3" y="520.0">80</text>
<rect x="1374.1" y="581.3" width="14.0" height="5.9" fill="#000"/>
<text class="ss" font-size="32" text-anchor="end" textLength="32.8" lengthAdjust="spacingAndGlyphs" x="1374.3" y="588.5">60</text>
<rect x="1374.1" y="649.8" width="14.0" height="5.9" fill="#000"/>
<text class="ss" font-size="32" text-anchor="end" textLength="32.8" lengthAdjust="spacingAndGlyphs" x="1374.3" y="657.1">40</text>
<rect x="1374.1" y="718.4" width="14.0" height="5.9" fill="#000"/>
<text class="ss" font-size="32" text-anchor="end" textLength="32.8" lengthAdjust="spacingAndGlyphs" x="1374.3" y="725.6">20</text>
<text class="ss" font-size="32" text-anchor="end" textLength="16.4" lengthAdjust="spacingAndGlyphs" x="1374.3" y="794.2">0</text>
<rect x="1425.0" y="789.9" width="5.9" height="13.8" fill="#000"/>
<rect x="1482.0" y="789.9" width="5.9" height="13.8" fill="#000"/>
<rect x="1562.1" y="789.9" width="5.9" height="13.8" fill="#000"/>
<rect x="1620.0" y="789.9" width="5.9" height="13.8" fill="#000"/>
<text class="ss" font-size="37.0" text-anchor="end" textLength="111.5" lengthAdjust="spacingAndGlyphs" transform="translate(1431.4,825.3) rotate(-45)">vehicle</text>
<text class="ss" font-size="37.0" text-anchor="end" textLength="56.8" lengthAdjust="spacingAndGlyphs" transform="translate(1488.4,825.3) rotate(-45)">cno</text>
<text class="ss" font-size="37.0" text-anchor="end" textLength="111.5" lengthAdjust="spacingAndGlyphs" transform="translate(1568.5,825.3) rotate(-45)">vehicle</text>
<text class="ss" font-size="37.0" text-anchor="end" textLength="56.8" lengthAdjust="spacingAndGlyphs" transform="translate(1626.3,825.3) rotate(-45)">cno</text>
<text class="ss" font-size="36.5" textLength="263.4" lengthAdjust="spacingAndGlyphs" transform="translate(1314.4,744.3) rotate(-90)">tone freezing (%)</text>
<text class="sf" font-size="46" transform="translate(1598.5,600.7) scale(1.02,1.24)" x="-11.39" y="21.85" stroke="#000" stroke-width="0.5">*</text>
<text class="sf" font-size="46" transform="translate(1623.6,600.7) scale(1.02,1.24)" x="-11.39" y="21.85" stroke="#000" stroke-width="0.5">*</text>
<text class="sf" font-size="46" transform="translate(1648.6,600.7) scale(1.02,1.24)" x="-11.39" y="21.85" stroke="#000" stroke-width="0.5">*</text>
<rect x="301.0" y="1155.0" width="49.0" height="174.0" fill="#a9a9a9"/>
<rect x="362.0" y="1286.0" width="49.0" height="43.0" fill="#fd7b78"/>
<rect x="292.2" y="977.0" width="5.9" height="354.9" fill="#000"/>
<rect x="281.6" y="1326.0" width="136.2" height="5.9" fill="#000"/>
<rect x="281.6" y="977.0" width="13.5" height="5.9" fill="#000"/>
<text class="ss" font-size="32" text-anchor="end" textLength="49.2" lengthAdjust="spacingAndGlyphs" x="281.8" y="984.3">100</text>
<rect x="281.6" y="1046.8" width="13.5" height="5.9" fill="#000"/>
<text class="ss" font-size="32" text-anchor="end" textLength="32.8" lengthAdjust="spacingAndGlyphs" x="281.8" y="1054.1">80</text>
<rect x="281.6" y="1116.6" width="13.5" height="5.9" fill="#000"/>
<text class="ss" font-size="32" text-anchor="end" textLength="32.8" lengthAdjust="spacingAndGlyphs" x="281.8" y="1123.9">60</text>
<rect x="281.6" y="1186.5" width="13.5" height="5.9" fill="#000"/>
<text class="ss" font-size="32" text-anchor="end" textLength="32.8" lengthAdjust="spacingAndGlyphs" x="281.8" y="1193.7">40</text>
<rect x="281.6" y="1256.2" width="13.5" height="5.9" fill="#000"/>
<text class="ss" font-size="32" text-anchor="end" textLength="32.8" lengthAdjust="spacingAndGlyphs" x="281.8" y="1263.5">20</text>
<text class="ss" font-size="32" text-anchor="end" textLength="16.4" lengthAdjust="spacingAndGlyphs" x="281.8" y="1333.3">0</text>
<rect x="322.9" y="1329.0" width="5.9" height="13.6" fill="#000"/>
<rect x="384.1" y="1329.0" width="5.9" height="13.6" fill="#000"/>
<text class="ss" font-size="38.3" text-anchor="end" textLength="117.0" lengthAdjust="spacingAndGlyphs" transform="translate(330.7,1364.7) rotate(-45)">vehicle</text>
<text class="ss" font-size="38.3" text-anchor="end" textLength="59.0" lengthAdjust="spacingAndGlyphs" transform="translate(391.9,1364.7) rotate(-45)">cno</text>
<text class="ss" font-size="36.5" textLength="260.1" lengthAdjust="spacingAndGlyphs" transform="translate(216.5,1281.1) rotate(-90)">fighters (% mice)</text>
<rect x="539.0" y="1178.0" width="49.0" height="146.3" fill="#a9a9a9"/>
<path d="M563.5 1179.0V1106.5M551.4 1106.5H575.6" stroke="#8e8e8e" stroke-width="3.4" stroke-linecap="round" fill="none"/>
<rect x="599.0" y="1313.9" width="49.0" height="10.4" fill="#fd7b78"/>
<path d="M623.5 1314.9V1302.4M611.4 1302.4H635.6" stroke="#fd7b78" stroke-width="3.4" stroke-linecap="round" fill="none"/>
<rect x="529.0" y="977.1" width="5.9" height="350.1" fill="#000"/>
<rect x="520.2" y="1321.3" width="133.8" height="5.9" fill="#000"/>
<rect x="520.2" y="977.1" width="11.8" height="5.9" fill="#000"/>
<text class="ss" font-size="32" text-anchor="end" textLength="32.8" lengthAdjust="spacingAndGlyphs" x="520.4" y="984.4">15</text>
<rect x="520.2" y="1091.9" width="11.8" height="5.9" fill="#000"/>
<text class="ss" font-size="32" text-anchor="end" textLength="32.8" lengthAdjust="spacingAndGlyphs" x="520.4" y="1099.1">10</text>
<rect x="520.2" y="1206.6" width="11.8" height="5.9" fill="#000"/>
<text class="ss" font-size="32" text-anchor="end" textLength="16.4" lengthAdjust="spacingAndGlyphs" x="520.4" y="1213.9">5</text>
<text class="ss" font-size="32" text-anchor="end" textLength="16.4" lengthAdjust="spacingAndGlyphs" x="520.4" y="1328.6">0</text>
<rect x="560.5" y="1324.3" width="5.9" height="13.4" fill="#000"/>
<rect x="620.3" y="1324.3" width="5.9" height="13.4" fill="#000"/>
<text class="ss" font-size="38.3" text-anchor="end" textLength="117.0" lengthAdjust="spacingAndGlyphs" transform="translate(568.4,1359.8) rotate(-45)">vehicle</text>
<text class="ss" font-size="38.3" text-anchor="end" textLength="59.0" lengthAdjust="spacingAndGlyphs" transform="translate(628.2,1359.8) rotate(-45)">cno</text>
<text class="ss" font-size="36.5" textLength="269.9" lengthAdjust="spacingAndGlyphs" transform="translate(471.4,1280.5) rotate(-90)">fighting bouts (#)</text>
<text class="sf" font-size="46" transform="translate(622.3,1284.2) scale(1.02,1.24)" x="-11.39" y="21.85" stroke="#000" stroke-width="0.5">*</text>
<rect x="872.7" y="1071.0" width="46.3" height="250.1" fill="#a9a9a9"/>
<path d="M895.9 1072.0V1040.9M883.8 1040.9H908.0" stroke="#8e8e8e" stroke-width="3.4" stroke-linecap="round" fill="none"/>
<rect x="930.0" y="1058.0" width="46.0" height="263.1" fill="#fd7b78"/>
<path d="M953.0 1059.0V1030.5M940.9 1030.5H965.1" stroke="#fd7b78" stroke-width="3.4" stroke-linecap="round" fill="none"/>
<rect x="1010.0" y="1100.8" width="46.0" height="220.3" fill="#a9a9a9"/>
<path d="M1033.0 1101.8V1068.0M1020.9 1068.0H1045.1" stroke="#8e8e8e" stroke-width="3.4" stroke-linecap="round" fill="none"/>
<rect x="1067.8" y="1129.0" width="46.0" height="192.1" fill="#fd7b78"/>
<path d="M1090.8 1130.0V1092.7M1078.7 1092.7H1102.9" stroke="#fd7b78" stroke-width="3.4" stroke-linecap="round" fill="none"/>
<rect x="853.0" y="973.2" width="5.9" height="350.8" fill="#000"/>
<rect x="842.0" y="1318.1" width="289.0" height="5.9" fill="#000"/>
<rect x="842.0" y="973.2" width="14.0" height="5.9" fill="#000"/>
<text class="ss" font-size="32" text-anchor="end" textLength="49.2" lengthAdjust="spacingAndGlyphs" x="842.2" y="980.5">100</text>
<rect x="842.0" y="1042.2" width="14.0" height="5.9" fill="#000"/>
<text class="ss" font-size="32" text-anchor="end" textLength="32.8" lengthAdjust="spacingAndGlyphs" x="842.2" y="1049.5">80</text>
<rect x="842.0" y="1111.2" width="14.0" height="5.9" fill="#000"/>
<text class="ss" font-size="32" text-anchor="end" textLength="32.8" lengthAdjust="spacingAndGlyphs" x="842.2" y="1118.5">60</text>
<rect x="842.0" y="1180.2" width="14.0" height="5.9" fill="#000"/>
<text class="ss" font-size="32" text-anchor="end" textLength="32.8" lengthAdjust="spacingAndGlyphs" x="842.2" y="1187.4">40</text>
<rect x="842.0" y="1249.2" width="14.0" height="5.9" fill="#000"/>
<text class="ss" font-size="32" text-anchor="end" textLength="32.8" lengthAdjust="spacingAndGlyphs" x="842.2" y="1256.4">20</text>
<text class="ss" font-size="32" text-anchor="end" textLength="16.4" lengthAdjust="spacingAndGlyphs" x="842.2" y="1325.4">0</text>
<rect x="892.8" y="1321.1" width="5.9" height="13.7" fill="#000"/>
<rect x="949.8" y="1321.1" width="5.9" height="13.7" fill="#000"/>
<rect x="1029.8" y="1321.1" width="5.9" height="13.7" fill="#000"/>
<rect x="1087.5" y="1321.1" width="5.9" height="13.7" fill="#000"/>
<text class="ss" font-size="37.0" text-anchor="end" textLength="111.5" lengthAdjust="spacingAndGlyphs" transform="translate(899.1,1356.4) rotate(-45)">vehicle</text>
<text class="ss" font-size="37.0" text-anchor="end" textLength="56.8" lengthAdjust="spacingAndGlyphs" transform="translate(956.2,1356.4) rotate(-45)">cno</text>
<text class="ss" font-size="37.0" text-anchor="end" textLength="111.5" lengthAdjust="spacingAndGlyphs" transform="translate(1036.2,1356.4) rotate(-45)">vehicle</text>
<text class="ss" font-size="37.0" text-anchor="end" textLength="56.8" lengthAdjust="spacingAndGlyphs" transform="translate(1093.9,1356.4) rotate(-45)">cno</text>
<text class="ss" font-size="36.5" textLength="272.5" lengthAdjust="spacingAndGlyphs" transform="translate(782.1,1277.3) rotate(-90)">loom freezing (%)</text>
<rect x="1392.9" y="1062.0" width="46.0" height="263.1" fill="#a9a9a9"/>
<path d="M1415.9 1063.0V1035.7M1403.8 1035.7H1428.0" stroke="#8e8e8e" stroke-width="3.4" stroke-linecap="round" fill="none"/>
<rect x="1451.2" y="1087.0" width="45.8" height="238.1" fill="#fd7b78"/>
<path d="M1474.1 1088.0V1064.5M1462.0 1064.5H1486.2" stroke="#fd7b78" stroke-width="3.4" stroke-linecap="round" fill="none"/>
<rect x="1531.0" y="1134.9" width="46.0" height="190.2" fill="#a9a9a9"/>
<path d="M1554.0 1135.9V1097.6M1541.9 1097.6H1566.1" stroke="#8e8e8e" stroke-width="3.4" stroke-linecap="round" fill="none"/>
<rect x="1588.0" y="1111.9" width="46.0" height="213.2" fill="#fd7b78"/>
<path d="M1611.0 1112.9V1080.7M1598.9 1080.7H1623.1" stroke="#fd7b78" stroke-width="3.4" stroke-linecap="round" fill="none"/>
<rect x="1373.0" y="977.1" width="5.9" height="350.9" fill="#000"/>
<rect x="1362.0" y="1322.1" width="288.8" height="5.9" fill="#000"/>
<rect x="1362.0" y="977.1" width="14.0" height="5.9" fill="#000"/>
<text class="ss" font-size="32" text-anchor="end" textLength="49.2" lengthAdjust="spacingAndGlyphs" x="1362.2" y="984.4">100</text>
<rect x="1362.0" y="1046.1" width="14.0" height="5.9" fill="#000"/>
<text class="ss" font-size="32" text-anchor="end" textLength="32.8" lengthAdjust="spacingAndGlyphs" x="1362.2" y="1053.4">80</text>
<rect x="1362.0" y="1115.1" width="14.0" height="5.9" fill="#000"/>
<text class="ss" font-size="32" text-anchor="end" textLength="32.8" lengthAdjust="spacingAndGlyphs" x="1362.2" y="1122.4">60</text>
<rect x="1362.0" y="1184.1" width="14.0" height="5.9" fill="#000"/>
<text class="ss" font-size="32" text-anchor="end" textLength="32.8" lengthAdjust="spacingAndGlyphs" x="1362.2" y="1191.4">40</text>
<rect x="1362.0" y="1253.1" width="14.0" height="5.9" fill="#000"/>
<text class="ss" font-size="32" text-anchor="end" textLength="32.8" lengthAdjust="spacingAndGlyphs" x="1362.2" y="1260.4">20</text>
<text class="ss" font-size="32" text-anchor="end" textLength="16.4" lengthAdjust="spacingAndGlyphs" x="1362.2" y="1329.4">0</text>
<rect x="1413.0" y="1325.1" width="5.9" height="13.6" fill="#000"/>
<rect x="1470.6" y="1325.1" width="5.9" height="13.6" fill="#000"/>
<rect x="1550.6" y="1325.1" width="5.9" height="13.6" fill="#000"/>
<rect x="1607.6" y="1325.1" width="5.9" height="13.6" fill="#000"/>
<text class="ss" font-size="37.0" text-anchor="end" textLength="111.5" lengthAdjust="spacingAndGlyphs" transform="translate(1419.3,1360.3) rotate(-45)">vehicle</text>
<text class="ss" font-size="37.0" text-anchor="end" textLength="56.8" lengthAdjust="spacingAndGlyphs" transform="translate(1477.0,1360.3) rotate(-45)">cno</text>
<text class="ss" font-size="37.0" text-anchor="end" textLength="111.5" lengthAdjust="spacingAndGlyphs" transform="translate(1557.0,1360.3) rotate(-45)">vehicle</text>
<text class="ss" font-size="37.0" text-anchor="end" textLength="56.8" lengthAdjust="spacingAndGlyphs" transform="translate(1614.0,1360.3) rotate(-45)">cno</text>
<text class="ss" font-size="36.5" textLength="265.8" lengthAdjust="spacingAndGlyphs" transform="translate(1302.4,1278.4) rotate(-90)">tone freezing (%)</text>
<rect x="301.0" y="1675.9" width="49.0" height="217.9" fill="#a9a9a9"/>
<rect x="362.0" y="1719.9" width="49.0" height="173.9" fill="#fd7b78"/>
<rect x="292.2" y="1542.8" width="5.9" height="354.0" fill="#000"/>
<rect x="281.6" y="1890.8" width="136.2" height="5.9" fill="#000"/>
<rect x="281.6" y="1542.8" width="13.5" height="5.9" fill="#000"/>
<text class="ss" font-size="32" text-anchor="end" textLength="49.2" lengthAdjust="spacingAndGlyphs" x="281.8" y="1550.0">100</text>
<rect x="281.6" y="1612.4" width="13.5" height="5.9" fill="#000"/>
<text class="ss" font-size="32" text-anchor="end" textLength="32.8" lengthAdjust="spacingAndGlyphs" x="281.8" y="1619.6">80</text>
<rect x="281.6" y="1682.0" width="13.5" height="5.9" fill="#000"/>
<text class="ss" font-size="32" text-anchor="end" textLength="32.8" lengthAdjust="spacingAndGlyphs" x="281.8" y="1689.2">60</text>
<rect x="281.6" y="1751.6" width="13.5" height="5.9" fill="#000"/>
<text class="ss" font-size="32" text-anchor="end" textLength="32.8" lengthAdjust="spacingAndGlyphs" x="281.8" y="1758.9">40</text>
<rect x="281.6" y="1821.2" width="13.5" height="5.9" fill="#000"/>
<text class="ss" font-size="32" text-anchor="end" textLength="32.8" lengthAdjust="spacingAndGlyphs" x="281.8" y="1828.5">20</text>
<text class="ss" font-size="32" text-anchor="end" textLength="16.4" lengthAdjust="spacingAndGlyphs" x="281.8" y="1898.1">0</text>
<rect x="322.1" y="1893.8" width="5.9" height="13.5" fill="#000"/>
<rect x="383.2" y="1893.8" width="5.9" height="13.5" fill="#000"/>
<text class="ss" font-size="38.3" text-anchor="end" textLength="117.0" lengthAdjust="spacingAndGlyphs" transform="translate(329.9,1929.4) rotate(-45)">vehicle</text>
<text class="ss" font-size="38.3" text-anchor="end" textLength="59.0" lengthAdjust="spacingAndGlyphs" transform="translate(391.1,1929.4) rotate(-45)">cno</text>
<text class="ss" font-size="36.5" textLength="260.2" lengthAdjust="spacingAndGlyphs" transform="translate(216.5,1846.2) rotate(-90)">fighters (% mice)</text>
<rect x="536.2" y="1706.0" width="48.7" height="188.8" fill="#a9a9a9"/>
<path d="M560.5 1707.0V1589.7M548.4 1589.7H572.6" stroke="#8e8e8e" stroke-width="3.4" stroke-linecap="round" fill="none"/>
<rect x="597.0" y="1741.0" width="48.9" height="153.8" fill="#fd7b78"/>
<path d="M621.5 1742.0V1645.7M609.4 1645.7H633.6" stroke="#fd7b78" stroke-width="3.4" stroke-linecap="round" fill="none"/>
<rect x="527.0" y="1539.2" width="5.9" height="358.5" fill="#000"/>
<rect x="516.5" y="1891.8" width="136.5" height="5.9" fill="#000"/>
<rect x="516.5" y="1539.2" width="13.5" height="5.9" fill="#000"/>
<text class="ss" font-size="32" text-anchor="end" textLength="32.8" lengthAdjust="spacingAndGlyphs" x="516.7" y="1546.5">15</text>
<rect x="516.5" y="1656.8" width="13.5" height="5.9" fill="#000"/>
<text class="ss" font-size="32" text-anchor="end" textLength="32.8" lengthAdjust="spacingAndGlyphs" x="516.7" y="1664.0">10</text>
<rect x="516.5" y="1774.3" width="13.5" height="5.9" fill="#000"/>
<text class="ss" font-size="32" text-anchor="end" textLength="16.4" lengthAdjust="spacingAndGlyphs" x="516.7" y="1781.6">5</text>
<text class="ss" font-size="32" text-anchor="end" textLength="16.4" lengthAdjust="spacingAndGlyphs" x="516.7" y="1899.1">0</text>
<rect x="557.0" y="1894.8" width="5.9" height="13.6" fill="#000"/>
<rect x="618.2" y="1894.8" width="5.9" height="13.6" fill="#000"/>
<text class="ss" font-size="38.3" text-anchor="end" textLength="117.0" lengthAdjust="spacingAndGlyphs" transform="translate(564.9,1930.5) rotate(-45)">vehicle</text>
<text class="ss" font-size="38.3" text-anchor="end" textLength="59.0" lengthAdjust="spacingAndGlyphs" transform="translate(626.1,1930.5) rotate(-45)">cno</text>
<text class="ss" font-size="36.5" textLength="270.8" lengthAdjust="spacingAndGlyphs" transform="translate(466.8,1853.8) rotate(-90)">fighting bouts (#)</text>
<rect x="875.0" y="1601.7" width="46.0" height="291.7" fill="#a9a9a9"/>
<path d="M898.0 1602.7V1578.3M885.9 1578.3H910.1" stroke="#8e8e8e" stroke-width="3.4" stroke-linecap="round" fill="none"/>
<rect x="932.0" y="1728.7" width="46.0" height="164.7" fill="#fd7b78"/>
<path d="M955.0 1729.7V1691.4M942.9 1691.4H967.1" stroke="#fd7b78" stroke-width="3.4" stroke-linecap="round" fill="none"/>
<rect x="1011.0" y="1686.9" width="46.0" height="206.5" fill="#a9a9a9"/>
<path d="M1034.0 1687.9V1649.3M1021.9 1649.3H1046.1" stroke="#8e8e8e" stroke-width="3.4" stroke-linecap="round" fill="none"/>
<rect x="1067.8" y="1803.9" width="46.0" height="89.5" fill="#fd7b78"/>
<path d="M1090.8 1804.9V1770.2M1078.7 1770.2H1102.9" stroke="#fd7b78" stroke-width="3.4" stroke-linecap="round" fill="none"/>
<rect x="856.0" y="1547.1" width="5.9" height="349.2" fill="#000"/>
<rect x="845.3" y="1890.5" width="285.9" height="5.9" fill="#000"/>
<rect x="845.3" y="1547.1" width="13.7" height="5.9" fill="#000"/>
<text class="ss" font-size="32" text-anchor="end" textLength="49.2" lengthAdjust="spacingAndGlyphs" x="845.5" y="1554.4">100</text>
<rect x="845.3" y="1615.8" width="13.7" height="5.9" fill="#000"/>
<text class="ss" font-size="32" text-anchor="end" textLength="32.8" lengthAdjust="spacingAndGlyphs" x="845.5" y="1623.1">80</text>
<rect x="845.3" y="1684.5" width="13.7" height="5.9" fill="#000"/>
<text class="ss" font-size="32" text-anchor="end" textLength="32.8" lengthAdjust="spacingAndGlyphs" x="845.5" y="1691.7">60</text>
<rect x="845.3" y="1753.1" width="13.7" height="5.9" fill="#000"/>
<text class="ss" font-size="32" text-anchor="end" textLength="32.8" lengthAdjust="spacingAndGlyphs" x="845.5" y="1760.4">40</text>
<rect x="845.3" y="1821.8" width="13.7" height="5.9" fill="#000"/>
<text class="ss" font-size="32" text-anchor="end" textLength="32.8" lengthAdjust="spacingAndGlyphs" x="845.5" y="1829.0">20</text>
<text class="ss" font-size="32" text-anchor="end" textLength="16.4" lengthAdjust="spacingAndGlyphs" x="845.5" y="1897.7">0</text>
<rect x="894.8" y="1893.4" width="5.9" height="12.9" fill="#000"/>
<rect x="952.0" y="1893.4" width="5.9" height="12.9" fill="#000"/>
<rect x="1030.8" y="1893.4" width="5.9" height="12.9" fill="#000"/>
<rect x="1088.2" y="1893.4" width="5.9" height="12.9" fill="#000"/>
<text class="ss" font-size="37.0" text-anchor="end" textLength="111.5" lengthAdjust="spacingAndGlyphs" transform="translate(901.1,1927.9) rotate(-45)">vehicle</text>
<text class="ss" font-size="37.0" text-anchor="end" textLength="56.8" lengthAdjust="spacingAndGlyphs" transform="translate(958.4,1927.9) rotate(-45)">cno</text>
<text class="ss" font-size="37.0" text-anchor="end" textLength="111.5" lengthAdjust="spacingAndGlyphs" transform="translate(1037.2,1927.9) rotate(-45)">vehicle</text>
<text class="ss" font-size="37.0" text-anchor="end" textLength="56.8" lengthAdjust="spacingAndGlyphs" transform="translate(1094.6,1927.9) rotate(-45)">cno</text>
<text class="ss" font-size="36.5" textLength="269.7" lengthAdjust="spacingAndGlyphs" transform="translate(785.7,1849.2) rotate(-90)">loom freezing (%)</text>
<text class="sf" font-size="46" transform="translate(957.2,1670.3) scale(1.02,1.24)" x="-11.39" y="21.85" stroke="#000" stroke-width="0.5">*</text>
<text class="sf" font-size="46" transform="translate(1092.6,1751.4) scale(1.02,1.24)" x="-11.39" y="21.85" stroke="#000" stroke-width="0.5">*</text>
<rect x="1391.9" y="1582.9" width="46.0" height="307.8" fill="#a9a9a9"/>
<path d="M1414.9 1583.9V1560.8M1402.8 1560.8H1427.0" stroke="#8e8e8e" stroke-width="3.4" stroke-linecap="round" fill="none"/>
<rect x="1449.0" y="1710.9" width="46.0" height="179.8" fill="#fd7b78"/>
<path d="M1472.0 1711.9V1666.5M1459.9 1666.5H1484.1" stroke="#fd7b78" stroke-width="3.4" stroke-linecap="round" fill="none"/>
<rect x="1528.0" y="1653.2" width="46.0" height="237.5" fill="#a9a9a9"/>
<path d="M1551.0 1654.2V1620.8M1538.9 1620.8H1563.1" stroke="#8e8e8e" stroke-width="3.4" stroke-linecap="round" fill="none"/>
<rect x="1585.0" y="1793.8" width="46.0" height="96.9" fill="#fd7b78"/>
<path d="M1608.0 1794.8V1759.2M1595.9 1759.2H1620.1" stroke="#fd7b78" stroke-width="3.4" stroke-linecap="round" fill="none"/>
<rect x="1372.0" y="1544.0" width="5.9" height="349.6" fill="#000"/>
<rect x="1361.5" y="1887.8" width="286.1" height="5.9" fill="#000"/>
<rect x="1361.5" y="1544.0" width="13.5" height="5.9" fill="#000"/>
<text class="ss" font-size="32" text-anchor="end" textLength="49.2" lengthAdjust="spacingAndGlyphs" x="1361.7" y="1551.3">100</text>
<rect x="1361.5" y="1612.8" width="13.5" height="5.9" fill="#000"/>
<text class="ss" font-size="32" text-anchor="end" textLength="32.8" lengthAdjust="spacingAndGlyphs" x="1361.7" y="1620.0">80</text>
<rect x="1361.5" y="1681.5" width="13.5" height="5.9" fill="#000"/>
<text class="ss" font-size="32" text-anchor="end" textLength="32.8" lengthAdjust="spacingAndGlyphs" x="1361.7" y="1688.8">60</text>
<rect x="1361.5" y="1750.3" width="13.5" height="5.9" fill="#000"/>
<text class="ss" font-size="32" text-anchor="end" textLength="32.8" lengthAdjust="spacingAndGlyphs" x="1361.7" y="1757.5">40</text>
<rect x="1361.5" y="1819.0" width="13.5" height="5.9" fill="#000"/>
<text class="ss" font-size="32" text-anchor="end" textLength="32.8" lengthAdjust="spacingAndGlyphs" x="1361.7" y="1826.3">20</text>
<text class="ss" font-size="32" text-anchor="end" textLength="16.4" lengthAdjust="spacingAndGlyphs" x="1361.7" y="1895.0">0</text>
<rect x="1411.6" y="1890.7" width="5.9" height="14.6" fill="#000"/>
<rect x="1469.0" y="1890.7" width="5.9" height="14.6" fill="#000"/>
<rect x="1547.8" y="1890.7" width="5.9" height="14.6" fill="#000"/>
<rect x="1605.0" y="1890.7" width="5.9" height="14.6" fill="#000"/>
<text class="ss" font-size="37.0" text-anchor="end" textLength="111.5" lengthAdjust="spacingAndGlyphs" transform="translate(1418.0,1926.9) rotate(-45)">vehicle</text>
<text class="ss" font-size="37.0" text-anchor="end" textLength="56.8" lengthAdjust="spacingAndGlyphs" transform="translate(1475.4,1926.9) rotate(-45)">cno</text>
<text class="ss" font-size="37.0" text-anchor="end" textLength="111.5" lengthAdjust="spacingAndGlyphs" transform="translate(1554.1,1926.9) rotate(-45)">vehicle</text>
<text class="ss" font-size="37.0" text-anchor="end" textLength="56.8" lengthAdjust="spacingAndGlyphs" transform="translate(1611.4,1926.9) rotate(-45)">cno</text>
<text class="ss" font-size="36.5" textLength="265.5" lengthAdjust="spacingAndGlyphs" transform="translate(1302.4,1845.3) rotate(-90)">tone freezing (%)</text>
<text class="sf" font-size="46" transform="translate(1474.7,1647.7) scale(1.02,1.24)" x="-11.39" y="21.85" stroke="#000" stroke-width="0.5">*</text>
<text class="sf" font-size="46" transform="translate(1609.2,1738.4) scale(1.02,1.24)" x="-11.39" y="21.85" stroke="#000" stroke-width="0.5">*</text>
<rect x="990.0" y="372.4" width="143.8" height="412.9" fill="none" stroke="#fc6906" stroke-width="4" stroke-dasharray="10.7 4.5"/>
<rect x="1530.0" y="375.6" width="139.4" height="415.9" fill="none" stroke="#fc6906" stroke-width="4" stroke-dasharray="10.7 4.5"/>
<rect x="863.3" y="1463.3" width="127.0" height="431.4" fill="none" stroke="#fc6906" stroke-width="4" stroke-dasharray="10.7 4.5"/>
<rect x="1002.2" y="1467.3" width="131.1" height="427.4" fill="none" stroke="#fc6906" stroke-width="4" stroke-dasharray="10.7 4.5"/>
<rect x="1383.9" y="1467.3" width="130.9" height="427.4" fill="none" stroke="#fc6906" stroke-width="4" stroke-dasharray="10.7 4.5"/>
<rect x="1526.3" y="1467.3" width="127.4" height="427.4" fill="none" stroke="#fc6906" stroke-width="4" stroke-dasharray="10.7 4.5"/>
<text class="sf" font-size="42.5" font-style="italic" textLength="115.0" lengthAdjust="spacingAndGlyphs" x="867.4" y="412.0">during</text>
<text class="sf" font-size="42.5" font-style="italic" textLength="77.5" lengthAdjust="spacingAndGlyphs" x="1024.4" y="412.0">post</text>
<text class="sf" font-size="42.5" font-style="italic" textLength="115.0" lengthAdjust="spacingAndGlyphs" x="1401.4" y="415.0">during</text>
<text class="sf" font-size="42.5" font-style="italic" textLength="77.5" lengthAdjust="spacingAndGlyphs" x="1561.1" y="415.0">post</text>
<text class="sf" font-size="42.5" font-style="italic" textLength="115.0" lengthAdjust="spacingAndGlyphs" x="870.2" y="974.4">during</text>
<text class="sf" font-size="42.5" font-style="italic" textLength="77.5" lengthAdjust="spacingAndGlyphs" x="1035.8" y="974.4">post</text>
<text class="sf" font-size="42.5" font-style="italic" textLength="115.0" lengthAdjust="spacingAndGlyphs" x="1391.9" y="979.0">during</text>
<text class="sf" font-size="42.5" font-style="italic" textLength="77.5" lengthAdjust="spacingAndGlyphs" x="1556.6" y="979.0">post</text>
<text class="sf" font-size="42.5" font-style="italic" textLength="115.0" lengthAdjust="spacingAndGlyphs" x="870.2" y="1504.0">during</text>
<text class="sf" font-size="42.5" font-style="italic" textLength="77.5" lengthAdjust="spacingAndGlyphs" x="1030.0" y="1504.0">post</text>
<text class="sf" font-size="42.5" font-style="italic" textLength="115.0" lengthAdjust="spacingAndGlyphs" x="1392.2" y="1504.6">during</text>
<text class="sf" font-size="42.5" font-style="italic" textLength="77.5" lengthAdjust="spacingAndGlyphs" x="1552.5" y="1504.6">post</text>
<rect x="144.3" y="2375.4" width="1472.4" height="142.5" fill="#ececec"/><rect x="203.8" y="2041.8" width="1419" height="69.8" rx="9" fill="#f2f2f2" stroke="#5a5a5a" stroke-width="11.6"/><rect x="207.75" y="2142.1" width="481.7" height="68.9" rx="8" fill="#fff" stroke="#a6a6a6" stroke-width="11.5"/><rect x="759.15" y="2138.1" width="258.2" height="75.8" rx="9" fill="#fff" stroke="#96a4fb" stroke-width="11.8"/><rect x="1060.1" y="2138.1" width="257.8" height="75.8" rx="9" fill="#fff" stroke="#dba2ee" stroke-width="11.8"/><rect x="1364.6" y="2138.1" width="254.2" height="75.8" rx="9" fill="#fff" stroke="#fead00" stroke-width="11.8"/><rect x="208" y="2221.5" width="1415" height="3.6" fill="#808080"/><rect x="208" y="2302.2" width="1415" height="3.6" fill="#808080"/><rect x="204" y="2371.1" width="1415" height="3.6" fill="#808080"/><rect x="208" y="2449.2" width="1415" height="3.6" fill="#808080"/><rect x="208" y="2518.2" width="1415" height="3.6" fill="#808080"/><rect x="204" y="2595.2" width="1415" height="3.6" fill="#808080"/><rect x="204" y="2668.1" width="1415" height="3.6" fill="#808080"/><text class="sf" font-size="31.6" textLength="45.6" lengthAdjust="spacingAndGlyphs" x="657.5" y="2070.8">SIS</text><text class="sf" font-size="50" font-weight="bold" textLength="134.5" lengthAdjust="spacingAndGlyphs" x="847.6" y="2096.2">hM4D</text><text class="sf" font-size="39" font-weight="bold" textLength="276.5" lengthAdjust="spacingAndGlyphs" x="308.6" y="2191.3">behavioral assay</text><text class="sf" font-size="39.5" font-weight="bold" textLength="144" lengthAdjust="spacingAndGlyphs" x="815.5" y="2188.7">dBNSTa</text><text class="sf" font-size="39.5" font-weight="bold" textLength="94.5" lengthAdjust="spacingAndGlyphs" x="1140.5" y="2188.7">DMH</text><text class="sf" font-size="39.5" font-weight="bold" textLength="73.5" lengthAdjust="spacingAndGlyphs" x="1453.5" y="2188.7">CeA</text><text class="sf" font-size="42.6" font-weight="bold" textLength="123" lengthAdjust="spacingAndGlyphs" transform="translate(175.6,2358) rotate(-90)">during</text><text class="sf" font-size="42.6" font-weight="bold" textLength="76" lengthAdjust="spacingAndGlyphs" transform="translate(172.6,2480) rotate(-90)">post</text><text class="sf" font-size="42.7" textLength="239.5" lengthAdjust="spacingAndGlyphs" x="214.2" y="2278.9">loom freezing</text><text class="sf" font-size="42.7" textLength="225" lengthAdjust="spacingAndGlyphs" x="215.4" y="2355">tone freezing</text><text class="sf" font-size="42.7" textLength="239.5" lengthAdjust="spacingAndGlyphs" x="214.8" y="2424.2">loom freezing</text><text class="sf" font-size="42.7" textLength="225.5" lengthAdjust="spacingAndGlyphs" x="219.0" y="2494.8">tone freezing</text><text class="sf" font-size="42.7" textLength="183.4" lengthAdjust="spacingAndGlyphs" x="218.3" y="2568.3">aggression</text><text class="sf" font-size="42.7" textLength="270" lengthAdjust="spacingAndGlyphs" x="218.3" y="2645.6">shock reactivity</text><text class="sf" font-size="42.7" textLength="61.8" lengthAdjust="spacingAndGlyphs" x="852.4" y="2270">n.c.</text><text class="sf" font-size="42.7" textLength="61.8" lengthAdjust="spacingAndGlyphs" x="1148.8" y="2270">n.c.</text><text class="sf" font-size="42.7" textLength="61.8" lengthAdjust="spacingAndGlyphs" x="850.7" y="2341.4">n.c.</text><text class="sf" font-size="42.7" textLength="61.8" lengthAdjust="spacingAndGlyphs" x="1150.2" y="2341.4">n.c.</text><text class="sf" font-size="42.7" textLength="53" lengthAdjust="spacingAndGlyphs" x="1459" y="2433.3">n/a</text><text class="sf" font-size="42.7" textLength="52.6" lengthAdjust="spacingAndGlyphs" x="1457.1" y="2496.4">n/a</text><path d="M211.3 2257.7H194Q188.9 2257.7 188.9 2262.5V2341Q188.9 2345.7 194 2345.7H211.3" fill="none" stroke="#000" stroke-width="3.6"/><path d="M211.3 2385H194Q188.9 2385 188.9 2390V2507Q188.9 2512 194 2512H211.3" fill="none" stroke="#000" stroke-width="3.6"/><path d="M656.5 2083.2C650.5 2086.3 646.1 2089.8 642.2 2091C637.3 2091.6 633.4 2089 629.7 2086.5" fill="none" stroke="#000" stroke-width="1.5" stroke-linecap="round"/><use href="#mb" transform="translate(679.7,2093.0) rotate(0) scale(0.06984,0.06984) translate(-897.5,-400)" fill="#807e7f"/><g transform="translate(1105.6,2056.6) rotate(-53.82386194304048) scale(0.74)"><rect x="-8.3" y="-17" width="16.6" height="10.5" fill="#000"/><rect x="-4.2" y="-13.6" width="8.4" height="3.8" fill="#bdbdbd"/><rect x="-2" y="-7" width="4" height="8" fill="#2a2a2a"/><rect x="-7.8" y="0" width="15.6" height="74" fill="#000"/><rect x="-4.3" y="5" width="7.4" height="29" fill="#eef1fa"/><rect x="-4.3" y="38" width="7.4" height="32" fill="#ff1a1a"/><rect x="1.6" y="12" width="4.5" height="3" fill="#2a2a2a"/><rect x="1.6" y="17.5" width="4.5" height="3" fill="#2a2a2a"/><rect x="1.6" y="23" width="4.5" height="3" fill="#2a2a2a"/><rect x="1.6" y="28.5" width="4.5" height="3" fill="#2a2a2a"/><rect x="1.6" y="36" width="4.5" height="3" fill="#2a2a2a"/><rect x="1.6" y="41.5" width="4.5" height="3" fill="#2a2a2a"/><rect x="1.6" y="47" width="4.5" height="3" fill="#2a2a2a"/><rect x="1.6" y="52.5" width="4.5" height="3" fill="#2a2a2a"/><rect x="1.6" y="58" width="4.5" height="3" fill="#2a2a2a"/><rect x="-2.1" y="74" width="4.2" height="28" fill="#2a2a2a"/></g><ellipse cx="514.4" cy="2287.8" rx="46.6" ry="7" fill="#8a8a8a" filter="url(#bl2)"/><ellipse cx="514.4" cy="2264.4" rx="36.7" ry="6" fill="#aaa" filter="url(#bl2)"/><ellipse cx="514.4" cy="2246.3" rx="27" ry="5.8" fill="#000"/><ellipse cx="514.4" cy="2261.4" rx="34.7" ry="5.8" fill="#000"/><ellipse cx="514.4" cy="2278.8" rx="42.6" ry="7.7" fill="#000"/><ellipse cx="593.3" cy="2428.3" rx="48.7" ry="7" fill="#8a8a8a" filter="url(#bl2)"/><ellipse cx="593.3" cy="2403.3" rx="38.3" ry="6" fill="#aaa" filter="url(#bl2)"/><ellipse cx="593.3" cy="2384.5" rx="27.3" ry="5.8" fill="#000"/><ellipse cx="593.3" cy="2400.3" rx="36.3" ry="5.8" fill="#000"/><ellipse cx="593.3" cy="2419.3" rx="44.7" ry="7.7" fill="#000"/><g transform="translate(0,0)"><path d="M485.4 2332.1H501.7L517.7 2318.7V2356.8L501.7 2343.7H485.4Q484.4 2343.7 484.4 2342.7V2333.1Q484.4 2332.1 485.4 2332.1Z" fill="#000"/><path d="M526.7 2321.1Q544.5 2338 526.7 2355.6M534.4 2310.7Q561.8 2336.5 534.4 2362.7" fill="none" stroke="#000" stroke-width="1.8" stroke-linecap="round"/></g><g transform="translate(73,140.5)"><path d="M485.4 2332.1H501.7L517.7 2318.7V2356.8L501.7 2343.7H485.4Q484.4 2343.7 484.4 2342.7V2333.1Q484.4 2332.1 485.4 2332.1Z" fill="#000"/><path d="M526.7 2321.1Q544.5 2338 526.7 2355.6M534.4 2310.7Q561.8 2336.5 534.4 2362.7" fill="none" stroke="#000" stroke-width="1.8" stroke-linecap="round"/></g><path d="M439.3 2548.6C434 2549 431 2552 428.6 2551.5C425 2550 422.5 2547.5 420.2 2545" fill="none" stroke="#000" stroke-width="1.2" stroke-linecap="round"/><use href="#mb" transform="translate(456.0,2562.2) rotate(24) scale(0.05079,0.05079) translate(-897.5,-400)" fill="#dedede"/><circle cx="474.6" cy="2569.2" r="1.1" fill="#f08080"/><path d="M496.4 2537.3C501 2539 504 2541.5 507.1 2541.4C511 2541 514 2538 516.7 2535.5" fill="none" stroke="#000" stroke-width="1.2" stroke-linecap="round"/><use href="#mb" transform="translate(476.8,2546.2) rotate(-13) scale(-0.05556,0.05556) translate(-897.5,-400)" fill="#807e7f"/><path d="M532.1 2604.3L558.3 2613.5L541.1 2624.8L547 2627.1L531 2637.3L536.3 2639L498.8 2664L517.3 2637.3L512.5 2635.2L524.4 2623.6L520.8 2621.8Z" fill="#000"/><path d="M1491.7 2234.4V2291.2" stroke="#3f8706" stroke-width="3.5" fill="none"/><path d="M1478.9 2277.0L1491.7 2290.6L1504.5 2277.0" fill="none" stroke="#3f8706" stroke-width="3.5" stroke-linecap="round" stroke-linejoin="miter"/><path d="M1491.7 2308V2364.2" stroke="#3f8706" stroke-width="3.5" fill="none"/><path d="M1478.9 2350.0L1491.7 2363.6L1504.5 2350.0" fill="none" stroke="#3f8706" stroke-width="3.5" stroke-linecap="round" stroke-linejoin="miter"/><path d="M878.6 2440.6V2384.7" stroke="#fd8582" stroke-width="3.4" fill="none"/><path d="M866.2 2398.2999999999997L878.6 2385.1L891.0 2398.2999999999997" fill="none" stroke="#fd8582" stroke-width="3.4" stroke-linecap="round" stroke-linejoin="miter"/><path d="M1175.6 2436.4V2381" stroke="#fd8582" stroke-width="3.4" fill="none"/><path d="M1163.1999999999998 2394.6L1175.6 2381.4L1188.0 2394.6" fill="none" stroke="#fd8582" stroke-width="3.4" stroke-linecap="round" stroke-linejoin="miter"/><path d="M882.5 2513.6V2458.3" stroke="#fd8582" stroke-width="3.4" fill="none"/><path d="M870.1 2471.9L882.5 2458.7000000000003L894.9 2471.9" fill="none" stroke="#fd8582" stroke-width="3.4" stroke-linecap="round" stroke-linejoin="miter"/><path d="M1175.6 2513.6V2458.3" stroke="#fd8582" stroke-width="3.4" fill="none"/><path d="M1163.1999999999998 2471.9L1175.6 2458.7000000000003L1188.0 2471.9" fill="none" stroke="#fd8582" stroke-width="3.4" stroke-linecap="round" stroke-linejoin="miter"/><path d="M882.5 2591V2535.2" stroke="#fd8582" stroke-width="3.4" fill="none"/><path d="M870.1 2548.7999999999997L882.5 2535.6L894.9 2548.7999999999997" fill="none" stroke="#fd8582" stroke-width="3.4" stroke-linecap="round" stroke-linejoin="miter"/><path d="M1175.6 2587.2V2531" stroke="#fd8582" stroke-width="3.4" fill="none"/><path d="M1163.1999999999998 2544.6L1175.6 2531.4L1188.0 2544.6" fill="none" stroke="#fd8582" stroke-width="3.4" stroke-linecap="round" stroke-linejoin="miter"/><path d="M1491.7 2587.5V2531.3" stroke="#fd8582" stroke-width="3.4" fill="none"/><path d="M1479.3 2544.9L1491.7 2531.7000000000003L1504.1000000000001 2544.9" fill="none" stroke="#fd8582" stroke-width="3.4" stroke-linecap="round" stroke-linejoin="miter"/><path d="M882.5 2664.2V2608.3" stroke="#fd8582" stroke-width="3.4" fill="none"/><path d="M870.1 2621.9L882.5 2608.7000000000003L894.9 2621.9" fill="none" stroke="#fd8582" stroke-width="3.4" stroke-linecap="round" stroke-linejoin="miter"/><path d="M1179.2 2664.2V2608.3" stroke="#fd8582" stroke-width="3.4" fill="none"/><path d="M1166.8 2621.9L1179.2 2608.7000000000003L1191.6000000000001 2621.9" fill="none" stroke="#fd8582" stroke-width="3.4" stroke-linecap="round" stroke-linejoin="miter"/><path d="M1495.6 2660.8V2605" stroke="#fd8582" stroke-width="3.4" fill="none"/><path d="M1483.1999999999998 2618.6L1495.6 2605.4L1508.0 2618.6" fill="none" stroke="#fd8582" stroke-width="3.4" stroke-linecap="round" stroke-linejoin="miter"/><path d="M850.75 2384.3999999999996L906.75 2440.0M906.75 2384.3999999999996L850.75 2440.0" stroke="#000" stroke-width="5" fill="none"/><path d="M850.55 2460.6L906.95 2514.2000000000003M906.95 2460.6L850.55 2514.2000000000003" stroke="#000" stroke-width="5" fill="none"/><path d="M1148 2534.3999999999996L1204 2590.0M1204 2534.3999999999996L1148 2590.0" stroke="#000" stroke-width="5" fill="none"/><path d="M1465.45 2607.7L1522.05 2660.7M1522.05 2607.7L1465.45 2660.7" stroke="#000" stroke-width="5" fill="none"/>
</svg></body></html>
